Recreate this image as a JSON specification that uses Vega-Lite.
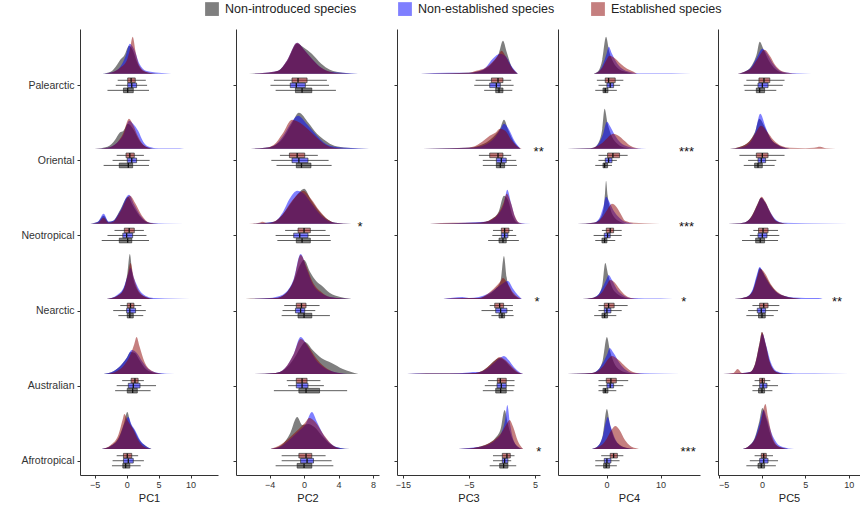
{
"$schema":"https://vega.github.io/schema/vega-lite/v6.json",
"padding":{"left":2,"top":2,"right":0,"bottom":10},
"background":"white",
"bounds":"flush",
"datasets":{
"dens":[
{"p":1,"r":"Pal","g":"N","x":-3.8,"d":0},{"p":1,"r":"Pal","g":"N","x":-2.5,"d":2},{"p":1,"r":"Pal","g":"N","x":-1.5,"d":9},{"p":1,"r":"Pal","g":"N","x":-1,"d":14},{"p":1,"r":"Pal","g":"N","x":-0.4,"d":18},{"p":1,"r":"Pal","g":"N","x":0.4,"d":28},{"p":1,"r":"Pal","g":"N","x":1,"d":23},{"p":1,"r":"Pal","g":"N","x":1.6,"d":12},{"p":1,"r":"Pal","g":"N","x":2.5,"d":3},{"p":1,"r":"Pal","g":"N","x":4,"d":0.5},{"p":1,"r":"Pal","g":"N","x":5,"d":0},
{"p":1,"r":"Ori","g":"N","x":-5,"d":0},{"p":1,"r":"Ori","g":"N","x":-3,"d":2},{"p":1,"r":"Ori","g":"N","x":-1.8,"d":9},{"p":1,"r":"Ori","g":"N","x":-1.1,"d":16},{"p":1,"r":"Ori","g":"N","x":-0.5,"d":18},{"p":1,"r":"Ori","g":"N","x":0.2,"d":25},{"p":1,"r":"Ori","g":"N","x":1,"d":20},{"p":1,"r":"Ori","g":"N","x":2,"d":8},{"p":1,"r":"Ori","g":"N","x":3,"d":2},{"p":1,"r":"Ori","g":"N","x":4.5,"d":0},
{"p":1,"r":"Neo","g":"N","x":-5.7,"d":0},{"p":1,"r":"Neo","g":"N","x":-4.5,"d":2},{"p":1,"r":"Neo","g":"N","x":-3.6,"d":8},{"p":1,"r":"Neo","g":"N","x":-2.8,"d":2},{"p":1,"r":"Neo","g":"N","x":-2.1,"d":3},{"p":1,"r":"Neo","g":"N","x":-1,"d":14},{"p":1,"r":"Neo","g":"N","x":0.2,"d":27},{"p":1,"r":"Neo","g":"N","x":1,"d":18},{"p":1,"r":"Neo","g":"N","x":2,"d":8},{"p":1,"r":"Neo","g":"N","x":3.5,"d":1},{"p":1,"r":"Neo","g":"N","x":5,"d":0},
{"p":1,"r":"Nea","g":"N","x":-3.1,"d":0},{"p":1,"r":"Nea","g":"N","x":-1.5,"d":3},{"p":1,"r":"Nea","g":"N","x":-0.5,"d":10},{"p":1,"r":"Nea","g":"N","x":0.1,"d":25},{"p":1,"r":"Nea","g":"N","x":0.5,"d":45},{"p":1,"r":"Nea","g":"N","x":0.9,"d":25},{"p":1,"r":"Nea","g":"N","x":1.6,"d":10},{"p":1,"r":"Nea","g":"N","x":2.6,"d":3},{"p":1,"r":"Nea","g":"N","x":4.2,"d":0},
{"p":1,"r":"Aus","g":"N","x":-3.6,"d":0},{"p":1,"r":"Aus","g":"N","x":-2,"d":3},{"p":1,"r":"Aus","g":"N","x":-1,"d":8},{"p":1,"r":"Aus","g":"N","x":0,"d":16},{"p":1,"r":"Aus","g":"N","x":0.6,"d":22},{"p":1,"r":"Aus","g":"N","x":1.3,"d":21},{"p":1,"r":"Aus","g":"N","x":2,"d":14},{"p":1,"r":"Aus","g":"N","x":3,"d":5},{"p":1,"r":"Aus","g":"N","x":4.5,"d":1},{"p":1,"r":"Aus","g":"N","x":6,"d":0},
{"p":1,"r":"Afr","g":"N","x":-3.9,"d":0},{"p":1,"r":"Afr","g":"N","x":-2.5,"d":3},{"p":1,"r":"Afr","g":"N","x":-1.2,"d":12},{"p":1,"r":"Afr","g":"N","x":-0.4,"d":26},{"p":1,"r":"Afr","g":"N","x":0.1,"d":37},{"p":1,"r":"Afr","g":"N","x":0.6,"d":26},{"p":1,"r":"Afr","g":"N","x":1.2,"d":19},{"p":1,"r":"Afr","g":"N","x":2,"d":9},{"p":1,"r":"Afr","g":"N","x":3,"d":3},{"p":1,"r":"Afr","g":"N","x":3.9,"d":0},
{"p":2,"r":"Pal","g":"N","x":-6.4,"d":0},{"p":2,"r":"Pal","g":"N","x":-4,"d":1},{"p":2,"r":"Pal","g":"N","x":-3,"d":3},{"p":2,"r":"Pal","g":"N","x":-2,"d":12},{"p":2,"r":"Pal","g":"N","x":-0.8,"d":30},{"p":2,"r":"Pal","g":"N","x":0,"d":26},{"p":2,"r":"Pal","g":"N","x":0.9,"d":20},{"p":2,"r":"Pal","g":"N","x":2,"d":10},{"p":2,"r":"Pal","g":"N","x":3,"d":4},{"p":2,"r":"Pal","g":"N","x":4.5,"d":1},{"p":2,"r":"Pal","g":"N","x":6.3,"d":0},
{"p":2,"r":"Ori","g":"N","x":-6.8,"d":0},{"p":2,"r":"Ori","g":"N","x":-4.5,"d":1},{"p":2,"r":"Ori","g":"N","x":-3.5,"d":3},{"p":2,"r":"Ori","g":"N","x":-2.5,"d":10},{"p":2,"r":"Ori","g":"N","x":-1.5,"d":24},{"p":2,"r":"Ori","g":"N","x":-0.6,"d":36},{"p":2,"r":"Ori","g":"N","x":0.5,"d":26},{"p":2,"r":"Ori","g":"N","x":1.5,"d":15},{"p":2,"r":"Ori","g":"N","x":2.5,"d":8},{"p":2,"r":"Ori","g":"N","x":3.5,"d":3},{"p":2,"r":"Ori","g":"N","x":5,"d":1},{"p":2,"r":"Ori","g":"N","x":7.6,"d":0},
{"p":2,"r":"Neo","g":"N","x":-6.4,"d":0},{"p":2,"r":"Neo","g":"N","x":-3.5,"d":2},{"p":2,"r":"Neo","g":"N","x":-2.5,"d":9},{"p":2,"r":"Neo","g":"N","x":-1.4,"d":22},{"p":2,"r":"Neo","g":"N","x":-0.6,"d":31},{"p":2,"r":"Neo","g":"N","x":0,"d":35},{"p":2,"r":"Neo","g":"N","x":0.8,"d":24},{"p":2,"r":"Neo","g":"N","x":1.8,"d":12},{"p":2,"r":"Neo","g":"N","x":2.8,"d":4},{"p":2,"r":"Neo","g":"N","x":3.6,"d":1},{"p":2,"r":"Neo","g":"N","x":5.5,"d":0},
{"p":2,"r":"Nea","g":"N","x":-6.8,"d":0},{"p":2,"r":"Nea","g":"N","x":-3.3,"d":1},{"p":2,"r":"Nea","g":"N","x":-2.2,"d":5},{"p":2,"r":"Nea","g":"N","x":-1.2,"d":18},{"p":2,"r":"Nea","g":"N","x":-0.4,"d":35},{"p":2,"r":"Nea","g":"N","x":0,"d":39},{"p":2,"r":"Nea","g":"N","x":0.7,"d":27},{"p":2,"r":"Nea","g":"N","x":1.4,"d":18},{"p":2,"r":"Nea","g":"N","x":2.1,"d":13},{"p":2,"r":"Nea","g":"N","x":3,"d":6},{"p":2,"r":"Nea","g":"N","x":4.2,"d":2},{"p":2,"r":"Nea","g":"N","x":5.5,"d":0},
{"p":2,"r":"Aus","g":"N","x":-6,"d":0},{"p":2,"r":"Aus","g":"N","x":-3.3,"d":1},{"p":2,"r":"Aus","g":"N","x":-2.2,"d":5},{"p":2,"r":"Aus","g":"N","x":-1.2,"d":15},{"p":2,"r":"Aus","g":"N","x":-0.3,"d":28},{"p":2,"r":"Aus","g":"N","x":0.1,"d":32},{"p":2,"r":"Aus","g":"N","x":1,"d":24},{"p":2,"r":"Aus","g":"N","x":2,"d":16},{"p":2,"r":"Aus","g":"N","x":3.2,"d":11},{"p":2,"r":"Aus","g":"N","x":4.5,"d":5},{"p":2,"r":"Aus","g":"N","x":6.3,"d":0},
{"p":2,"r":"Afr","g":"N","x":-3.9,"d":0},{"p":2,"r":"Afr","g":"N","x":-2.6,"d":4},{"p":2,"r":"Afr","g":"N","x":-1.6,"d":16},{"p":2,"r":"Afr","g":"N","x":-0.8,"d":32},{"p":2,"r":"Afr","g":"N","x":-0.2,"d":24},{"p":2,"r":"Afr","g":"N","x":0.5,"d":25},{"p":2,"r":"Afr","g":"N","x":1.2,"d":22},{"p":2,"r":"Afr","g":"N","x":2.2,"d":12},{"p":2,"r":"Afr","g":"N","x":3.2,"d":4},{"p":2,"r":"Afr","g":"N","x":4.2,"d":1},{"p":2,"r":"Afr","g":"N","x":5.3,"d":0},
{"p":3,"r":"Pal","g":"N","x":-12.4,"d":0},{"p":3,"r":"Pal","g":"N","x":-8,"d":0.5},{"p":3,"r":"Pal","g":"N","x":-5,"d":1},{"p":3,"r":"Pal","g":"N","x":-3.9,"d":2},{"p":3,"r":"Pal","g":"N","x":-2.5,"d":5},{"p":3,"r":"Pal","g":"N","x":-1.3,"d":12},{"p":3,"r":"Pal","g":"N","x":-0.5,"d":20},{"p":3,"r":"Pal","g":"N","x":0.15,"d":33},{"p":3,"r":"Pal","g":"N","x":0.7,"d":22},{"p":3,"r":"Pal","g":"N","x":1.4,"d":8},{"p":3,"r":"Pal","g":"N","x":2.4,"d":0},
{"p":3,"r":"Ori","g":"N","x":-12,"d":0},{"p":3,"r":"Ori","g":"N","x":-8,"d":0.5},{"p":3,"r":"Ori","g":"N","x":-5,"d":1},{"p":3,"r":"Ori","g":"N","x":-3.5,"d":3},{"p":3,"r":"Ori","g":"N","x":-2,"d":8},{"p":3,"r":"Ori","g":"N","x":-1,"d":14},{"p":3,"r":"Ori","g":"N","x":-0.3,"d":20},{"p":3,"r":"Ori","g":"N","x":0.3,"d":29},{"p":3,"r":"Ori","g":"N","x":1,"d":18},{"p":3,"r":"Ori","g":"N","x":1.8,"d":7},{"p":3,"r":"Ori","g":"N","x":2.8,"d":0},
{"p":3,"r":"Neo","g":"N","x":-11,"d":0},{"p":3,"r":"Neo","g":"N","x":-7.4,"d":0.5},{"p":3,"r":"Neo","g":"N","x":-4,"d":1},{"p":3,"r":"Neo","g":"N","x":-2.5,"d":2},{"p":3,"r":"Neo","g":"N","x":-1.5,"d":5},{"p":3,"r":"Neo","g":"N","x":-0.5,"d":12},{"p":3,"r":"Neo","g":"N","x":0.3,"d":28},{"p":3,"r":"Neo","g":"N","x":0.9,"d":24},{"p":3,"r":"Neo","g":"N","x":1.6,"d":8},{"p":3,"r":"Neo","g":"N","x":2.3,"d":1},{"p":3,"r":"Neo","g":"N","x":3,"d":0},
{"p":3,"r":"Nea","g":"N","x":-8.9,"d":0},{"p":3,"r":"Nea","g":"N","x":-6,"d":0.5},{"p":3,"r":"Nea","g":"N","x":-3.5,"d":1},{"p":3,"r":"Nea","g":"N","x":-2.2,"d":4},{"p":3,"r":"Nea","g":"N","x":-1,"d":10},{"p":3,"r":"Nea","g":"N","x":-0.2,"d":18},{"p":3,"r":"Nea","g":"N","x":0.3,"d":43},{"p":3,"r":"Nea","g":"N","x":0.7,"d":22},{"p":3,"r":"Nea","g":"N","x":1.4,"d":8},{"p":3,"r":"Nea","g":"N","x":2.2,"d":2},{"p":3,"r":"Nea","g":"N","x":2.9,"d":0},
{"p":3,"r":"Aus","g":"N","x":-14.4,"d":0},{"p":3,"r":"Aus","g":"N","x":-11.4,"d":0.5},{"p":3,"r":"Aus","g":"N","x":-6,"d":0.5},{"p":3,"r":"Aus","g":"N","x":-4,"d":1},{"p":3,"r":"Aus","g":"N","x":-3,"d":3},{"p":3,"r":"Aus","g":"N","x":-2,"d":8},{"p":3,"r":"Aus","g":"N","x":-1,"d":14},{"p":3,"r":"Aus","g":"N","x":-0.45,"d":16},{"p":3,"r":"Aus","g":"N","x":0.3,"d":14},{"p":3,"r":"Aus","g":"N","x":1.2,"d":8},{"p":3,"r":"Aus","g":"N","x":2.2,"d":2},{"p":3,"r":"Aus","g":"N","x":3.2,"d":0},
{"p":3,"r":"Afr","g":"N","x":-6.6,"d":0},{"p":3,"r":"Afr","g":"N","x":-5,"d":0.5},{"p":3,"r":"Afr","g":"N","x":-3.6,"d":2},{"p":3,"r":"Afr","g":"N","x":-2.2,"d":5},{"p":3,"r":"Afr","g":"N","x":-1,"d":11},{"p":3,"r":"Afr","g":"N","x":-0.2,"d":20},{"p":3,"r":"Afr","g":"N","x":0.4,"d":39},{"p":3,"r":"Afr","g":"N","x":0.9,"d":25},{"p":3,"r":"Afr","g":"N","x":1.6,"d":10},{"p":3,"r":"Afr","g":"N","x":2.4,"d":2},{"p":3,"r":"Afr","g":"N","x":3.2,"d":0},
{"p":4,"r":"Pal","g":"N","x":-2.4,"d":0},{"p":4,"r":"Pal","g":"N","x":-1.5,"d":3},{"p":4,"r":"Pal","g":"N","x":-0.8,"d":14},{"p":4,"r":"Pal","g":"N","x":-0.1,"d":37},{"p":4,"r":"Pal","g":"N","x":0.5,"d":22},{"p":4,"r":"Pal","g":"N","x":1.2,"d":12},{"p":4,"r":"Pal","g":"N","x":2.2,"d":5},{"p":4,"r":"Pal","g":"N","x":3.5,"d":2},{"p":4,"r":"Pal","g":"N","x":5,"d":0},
{"p":4,"r":"Ori","g":"N","x":-7.3,"d":0},{"p":4,"r":"Ori","g":"N","x":-3,"d":0.5},{"p":4,"r":"Ori","g":"N","x":-2.4,"d":1},{"p":4,"r":"Ori","g":"N","x":-1.5,"d":6},{"p":4,"r":"Ori","g":"N","x":-0.8,"d":20},{"p":4,"r":"Ori","g":"N","x":-0.37,"d":40},{"p":4,"r":"Ori","g":"N","x":0.2,"d":25},{"p":4,"r":"Ori","g":"N","x":1,"d":12},{"p":4,"r":"Ori","g":"N","x":2,"d":5},{"p":4,"r":"Ori","g":"N","x":3.5,"d":1},{"p":4,"r":"Ori","g":"N","x":5,"d":0},
{"p":4,"r":"Neo","g":"N","x":-5.4,"d":0},{"p":4,"r":"Neo","g":"N","x":-2.4,"d":1},{"p":4,"r":"Neo","g":"N","x":-1.4,"d":4},{"p":4,"r":"Neo","g":"N","x":-0.6,"d":14},{"p":4,"r":"Neo","g":"N","x":-0.3,"d":30},{"p":4,"r":"Neo","g":"N","x":-0.1,"d":43},{"p":4,"r":"Neo","g":"N","x":0.2,"d":28},{"p":4,"r":"Neo","g":"N","x":0.7,"d":15},{"p":4,"r":"Neo","g":"N","x":1.5,"d":6},{"p":4,"r":"Neo","g":"N","x":2.5,"d":2},{"p":4,"r":"Neo","g":"N","x":3.5,"d":0},
{"p":4,"r":"Nea","g":"N","x":-4.5,"d":0},{"p":4,"r":"Nea","g":"N","x":-2.7,"d":1},{"p":4,"r":"Nea","g":"N","x":-1.6,"d":4},{"p":4,"r":"Nea","g":"N","x":-0.8,"d":14},{"p":4,"r":"Nea","g":"N","x":-0.25,"d":36},{"p":4,"r":"Nea","g":"N","x":0.3,"d":24},{"p":4,"r":"Nea","g":"N","x":1,"d":12},{"p":4,"r":"Nea","g":"N","x":2,"d":5},{"p":4,"r":"Nea","g":"N","x":3,"d":2},{"p":4,"r":"Nea","g":"N","x":4.5,"d":0},
{"p":4,"r":"Aus","g":"N","x":-7.3,"d":0},{"p":4,"r":"Aus","g":"N","x":-4,"d":0.5},{"p":4,"r":"Aus","g":"N","x":-2.7,"d":1},{"p":4,"r":"Aus","g":"N","x":-1.6,"d":4},{"p":4,"r":"Aus","g":"N","x":-0.7,"d":14},{"p":4,"r":"Aus","g":"N","x":0.06,"d":37},{"p":4,"r":"Aus","g":"N","x":0.6,"d":24},{"p":4,"r":"Aus","g":"N","x":1.4,"d":11},{"p":4,"r":"Aus","g":"N","x":2.5,"d":4},{"p":4,"r":"Aus","g":"N","x":4,"d":1},{"p":4,"r":"Aus","g":"N","x":5.5,"d":0},
{"p":4,"r":"Afr","g":"N","x":-2.7,"d":0},{"p":4,"r":"Afr","g":"N","x":-1.6,"d":3},{"p":4,"r":"Afr","g":"N","x":-0.7,"d":14},{"p":4,"r":"Afr","g":"N","x":0.06,"d":40},{"p":4,"r":"Afr","g":"N","x":0.6,"d":25},{"p":4,"r":"Afr","g":"N","x":1.4,"d":11},{"p":4,"r":"Afr","g":"N","x":2.5,"d":4},{"p":4,"r":"Afr","g":"N","x":3.8,"d":1},{"p":4,"r":"Afr","g":"N","x":5,"d":0},
{"p":5,"r":"Pal","g":"N","x":-2.8,"d":0},{"p":5,"r":"Pal","g":"N","x":-2,"d":2},{"p":5,"r":"Pal","g":"N","x":-1.2,"d":8},{"p":5,"r":"Pal","g":"N","x":-0.6,"d":20},{"p":5,"r":"Pal","g":"N","x":-0.27,"d":32},{"p":5,"r":"Pal","g":"N","x":0.2,"d":24},{"p":5,"r":"Pal","g":"N","x":0.8,"d":13},{"p":5,"r":"Pal","g":"N","x":1.5,"d":5},{"p":5,"r":"Pal","g":"N","x":2.4,"d":1},{"p":5,"r":"Pal","g":"N","x":3.5,"d":0},
{"p":5,"r":"Ori","g":"N","x":-3.7,"d":0},{"p":5,"r":"Ori","g":"N","x":-2.5,"d":2},{"p":5,"r":"Ori","g":"N","x":-1.5,"d":7},{"p":5,"r":"Ori","g":"N","x":-0.8,"d":17},{"p":5,"r":"Ori","g":"N","x":-0.3,"d":30},{"p":5,"r":"Ori","g":"N","x":0.3,"d":22},{"p":5,"r":"Ori","g":"N","x":1,"d":10},{"p":5,"r":"Ori","g":"N","x":1.8,"d":4},{"p":5,"r":"Ori","g":"N","x":3.2,"d":0},
{"p":5,"r":"Neo","g":"N","x":-3.9,"d":0},{"p":5,"r":"Neo","g":"N","x":-2.5,"d":0.5},{"p":5,"r":"Neo","g":"N","x":-1.8,"d":2},{"p":5,"r":"Neo","g":"N","x":-1.1,"d":9},{"p":5,"r":"Neo","g":"N","x":-0.5,"d":20},{"p":5,"r":"Neo","g":"N","x":-0.1,"d":26},{"p":5,"r":"Neo","g":"N","x":0.4,"d":21},{"p":5,"r":"Neo","g":"N","x":1,"d":10},{"p":5,"r":"Neo","g":"N","x":1.6,"d":3},{"p":5,"r":"Neo","g":"N","x":2.2,"d":1},{"p":5,"r":"Neo","g":"N","x":3,"d":0},
{"p":5,"r":"Nea","g":"N","x":-3.2,"d":0},{"p":5,"r":"Nea","g":"N","x":-1.8,"d":2},{"p":5,"r":"Nea","g":"N","x":-1.1,"d":8},{"p":5,"r":"Nea","g":"N","x":-0.6,"d":22},{"p":5,"r":"Nea","g":"N","x":-0.27,"d":31},{"p":5,"r":"Nea","g":"N","x":0.3,"d":24},{"p":5,"r":"Nea","g":"N","x":1,"d":14},{"p":5,"r":"Nea","g":"N","x":1.8,"d":6},{"p":5,"r":"Nea","g":"N","x":2.6,"d":3},{"p":5,"r":"Nea","g":"N","x":3.6,"d":1},{"p":5,"r":"Nea","g":"N","x":4.5,"d":0},
{"p":5,"r":"Aus","g":"N","x":-4.5,"d":0},{"p":5,"r":"Aus","g":"N","x":-2.5,"d":0.5},{"p":5,"r":"Aus","g":"N","x":-1.35,"d":2},{"p":5,"r":"Aus","g":"N","x":-0.8,"d":10},{"p":5,"r":"Aus","g":"N","x":-0.3,"d":30},{"p":5,"r":"Aus","g":"N","x":0,"d":42},{"p":5,"r":"Aus","g":"N","x":0.4,"d":30},{"p":5,"r":"Aus","g":"N","x":0.9,"d":12},{"p":5,"r":"Aus","g":"N","x":1.65,"d":2},{"p":5,"r":"Aus","g":"N","x":2.5,"d":0.5},{"p":5,"r":"Aus","g":"N","x":3.5,"d":0},
{"p":5,"r":"Afr","g":"N","x":-2.2,"d":0},{"p":5,"r":"Afr","g":"N","x":-1.5,"d":3},{"p":5,"r":"Afr","g":"N","x":-0.8,"d":12},{"p":5,"r":"Afr","g":"N","x":-0.3,"d":28},{"p":5,"r":"Afr","g":"N","x":0.04,"d":41},{"p":5,"r":"Afr","g":"N","x":0.5,"d":30},{"p":5,"r":"Afr","g":"N","x":1,"d":14},{"p":5,"r":"Afr","g":"N","x":1.6,"d":4},{"p":5,"r":"Afr","g":"N","x":2.4,"d":1},{"p":5,"r":"Afr","g":"N","x":3,"d":0},

{"p":1,"r":"Pal","g":"S","x":-3.8,"d":0},{"p":1,"r":"Pal","g":"S","x":-2,"d":2},{"p":1,"r":"Pal","g":"S","x":-1,"d":7},{"p":1,"r":"Pal","g":"S","x":-0.2,"d":17},{"p":1,"r":"Pal","g":"S","x":0.5,"d":30},{"p":1,"r":"Pal","g":"S","x":1.2,"d":24},{"p":1,"r":"Pal","g":"S","x":2,"d":10},{"p":1,"r":"Pal","g":"S","x":3,"d":3},{"p":1,"r":"Pal","g":"S","x":5,"d":1},{"p":1,"r":"Pal","g":"S","x":7,"d":0},
{"p":1,"r":"Ori","g":"S","x":-5,"d":0},{"p":1,"r":"Ori","g":"S","x":-3,"d":1},{"p":1,"r":"Ori","g":"S","x":-1.5,"d":6},{"p":1,"r":"Ori","g":"S","x":-0.5,"d":14},{"p":1,"r":"Ori","g":"S","x":0.4,"d":28},{"p":1,"r":"Ori","g":"S","x":1,"d":25},{"p":1,"r":"Ori","g":"S","x":1.8,"d":18},{"p":1,"r":"Ori","g":"S","x":2.6,"d":7},{"p":1,"r":"Ori","g":"S","x":3.5,"d":2},{"p":1,"r":"Ori","g":"S","x":5,"d":0.5},{"p":1,"r":"Ori","g":"S","x":8.3,"d":0.5},{"p":1,"r":"Ori","g":"S","x":9,"d":0},
{"p":1,"r":"Neo","g":"S","x":-5.7,"d":0},{"p":1,"r":"Neo","g":"S","x":-4.5,"d":2},{"p":1,"r":"Neo","g":"S","x":-3.6,"d":10},{"p":1,"r":"Neo","g":"S","x":-2.8,"d":2},{"p":1,"r":"Neo","g":"S","x":-2.1,"d":3},{"p":1,"r":"Neo","g":"S","x":-1,"d":13},{"p":1,"r":"Neo","g":"S","x":0.36,"d":29},{"p":1,"r":"Neo","g":"S","x":1.2,"d":19},{"p":1,"r":"Neo","g":"S","x":2.2,"d":8},{"p":1,"r":"Neo","g":"S","x":3.6,"d":1},{"p":1,"r":"Neo","g":"S","x":6,"d":0.3},{"p":1,"r":"Neo","g":"S","x":12,"d":0},
{"p":1,"r":"Nea","g":"S","x":-3.1,"d":0},{"p":1,"r":"Nea","g":"S","x":-1.5,"d":4},{"p":1,"r":"Nea","g":"S","x":-0.5,"d":11},{"p":1,"r":"Nea","g":"S","x":0.2,"d":24},{"p":1,"r":"Nea","g":"S","x":0.6,"d":31},{"p":1,"r":"Nea","g":"S","x":1.2,"d":20},{"p":1,"r":"Nea","g":"S","x":2,"d":9},{"p":1,"r":"Nea","g":"S","x":3,"d":3},{"p":1,"r":"Nea","g":"S","x":4.2,"d":1},{"p":1,"r":"Nea","g":"S","x":6,"d":0.5},{"p":1,"r":"Nea","g":"S","x":9.9,"d":0},
{"p":1,"r":"Aus","g":"S","x":-3.6,"d":0},{"p":1,"r":"Aus","g":"S","x":-2,"d":3},{"p":1,"r":"Aus","g":"S","x":-1,"d":8},{"p":1,"r":"Aus","g":"S","x":0,"d":16},{"p":1,"r":"Aus","g":"S","x":0.8,"d":24},{"p":1,"r":"Aus","g":"S","x":1.6,"d":21},{"p":1,"r":"Aus","g":"S","x":2.4,"d":13},{"p":1,"r":"Aus","g":"S","x":3.4,"d":5},{"p":1,"r":"Aus","g":"S","x":5,"d":1},{"p":1,"r":"Aus","g":"S","x":7.5,"d":0},
{"p":1,"r":"Afr","g":"S","x":-3.9,"d":0},{"p":1,"r":"Afr","g":"S","x":-2.5,"d":3},{"p":1,"r":"Afr","g":"S","x":-1.2,"d":11},{"p":1,"r":"Afr","g":"S","x":-0.3,"d":26},{"p":1,"r":"Afr","g":"S","x":0.26,"d":32},{"p":1,"r":"Afr","g":"S","x":0.8,"d":24},{"p":1,"r":"Afr","g":"S","x":1.3,"d":19},{"p":1,"r":"Afr","g":"S","x":2.1,"d":9},{"p":1,"r":"Afr","g":"S","x":3,"d":3},{"p":1,"r":"Afr","g":"S","x":3.9,"d":0},
{"p":2,"r":"Pal","g":"S","x":-6.4,"d":0},{"p":2,"r":"Pal","g":"S","x":-4.5,"d":1},{"p":2,"r":"Pal","g":"S","x":-3,"d":3},{"p":2,"r":"Pal","g":"S","x":-2,"d":13},{"p":2,"r":"Pal","g":"S","x":-0.8,"d":31},{"p":2,"r":"Pal","g":"S","x":0,"d":24},{"p":2,"r":"Pal","g":"S","x":0.9,"d":15},{"p":2,"r":"Pal","g":"S","x":2,"d":6},{"p":2,"r":"Pal","g":"S","x":3,"d":2},{"p":2,"r":"Pal","g":"S","x":4.5,"d":1},{"p":2,"r":"Pal","g":"S","x":6.3,"d":0},
{"p":2,"r":"Ori","g":"S","x":-6.8,"d":0},{"p":2,"r":"Ori","g":"S","x":-4.5,"d":1},{"p":2,"r":"Ori","g":"S","x":-3.5,"d":3},{"p":2,"r":"Ori","g":"S","x":-2.5,"d":12},{"p":2,"r":"Ori","g":"S","x":-1.5,"d":26},{"p":2,"r":"Ori","g":"S","x":-0.7,"d":33},{"p":2,"r":"Ori","g":"S","x":0.4,"d":24},{"p":2,"r":"Ori","g":"S","x":1.5,"d":13},{"p":2,"r":"Ori","g":"S","x":2.5,"d":5},{"p":2,"r":"Ori","g":"S","x":3.5,"d":2},{"p":2,"r":"Ori","g":"S","x":5,"d":1},{"p":2,"r":"Ori","g":"S","x":7.6,"d":0},
{"p":2,"r":"Neo","g":"S","x":-6.4,"d":0},{"p":2,"r":"Neo","g":"S","x":-3.5,"d":2},{"p":2,"r":"Neo","g":"S","x":-2.5,"d":11},{"p":2,"r":"Neo","g":"S","x":-1.6,"d":26},{"p":2,"r":"Neo","g":"S","x":-0.8,"d":33},{"p":2,"r":"Neo","g":"S","x":0,"d":30},{"p":2,"r":"Neo","g":"S","x":0.8,"d":21},{"p":2,"r":"Neo","g":"S","x":1.8,"d":10},{"p":2,"r":"Neo","g":"S","x":2.8,"d":3},{"p":2,"r":"Neo","g":"S","x":3.6,"d":1},{"p":2,"r":"Neo","g":"S","x":5.5,"d":0},
{"p":2,"r":"Nea","g":"S","x":-6.8,"d":0},{"p":2,"r":"Nea","g":"S","x":-4,"d":1},{"p":2,"r":"Nea","g":"S","x":-3.3,"d":2},{"p":2,"r":"Nea","g":"S","x":-2.2,"d":6},{"p":2,"r":"Nea","g":"S","x":-1.2,"d":20},{"p":2,"r":"Nea","g":"S","x":-0.4,"d":45},{"p":2,"r":"Nea","g":"S","x":0.3,"d":30},{"p":2,"r":"Nea","g":"S","x":1,"d":15},{"p":2,"r":"Nea","g":"S","x":2,"d":6},{"p":2,"r":"Nea","g":"S","x":3,"d":2},{"p":2,"r":"Nea","g":"S","x":4.5,"d":0.5},{"p":2,"r":"Nea","g":"S","x":5.5,"d":0},
{"p":2,"r":"Aus","g":"S","x":-6,"d":0},{"p":2,"r":"Aus","g":"S","x":-3.3,"d":1},{"p":2,"r":"Aus","g":"S","x":-2.2,"d":6},{"p":2,"r":"Aus","g":"S","x":-1.2,"d":20},{"p":2,"r":"Aus","g":"S","x":-0.4,"d":37},{"p":2,"r":"Aus","g":"S","x":0.4,"d":28},{"p":2,"r":"Aus","g":"S","x":1.3,"d":15},{"p":2,"r":"Aus","g":"S","x":2.4,"d":6},{"p":2,"r":"Aus","g":"S","x":3.5,"d":2},{"p":2,"r":"Aus","g":"S","x":5,"d":0},
{"p":2,"r":"Afr","g":"S","x":-3.9,"d":0},{"p":2,"r":"Afr","g":"S","x":-2.6,"d":3},{"p":2,"r":"Afr","g":"S","x":-1.6,"d":10},{"p":2,"r":"Afr","g":"S","x":-0.6,"d":18},{"p":2,"r":"Afr","g":"S","x":0.2,"d":25},{"p":2,"r":"Afr","g":"S","x":0.9,"d":37},{"p":2,"r":"Afr","g":"S","x":1.5,"d":27},{"p":2,"r":"Afr","g":"S","x":2.4,"d":12},{"p":2,"r":"Afr","g":"S","x":3.3,"d":4},{"p":2,"r":"Afr","g":"S","x":4.2,"d":1},{"p":2,"r":"Afr","g":"S","x":5.3,"d":0},
{"p":3,"r":"Pal","g":"S","x":-12.4,"d":0},{"p":3,"r":"Pal","g":"S","x":-8,"d":1},{"p":3,"r":"Pal","g":"S","x":-5,"d":1},{"p":3,"r":"Pal","g":"S","x":-3.9,"d":2},{"p":3,"r":"Pal","g":"S","x":-2.5,"d":6},{"p":3,"r":"Pal","g":"S","x":-1.4,"d":15},{"p":3,"r":"Pal","g":"S","x":-0.25,"d":20},{"p":3,"r":"Pal","g":"S","x":0.6,"d":17},{"p":3,"r":"Pal","g":"S","x":1.4,"d":8},{"p":3,"r":"Pal","g":"S","x":2.4,"d":0},
{"p":3,"r":"Ori","g":"S","x":-12,"d":0},{"p":3,"r":"Ori","g":"S","x":-8,"d":0.5},{"p":3,"r":"Ori","g":"S","x":-5,"d":1},{"p":3,"r":"Ori","g":"S","x":-3.5,"d":2},{"p":3,"r":"Ori","g":"S","x":-2,"d":6},{"p":3,"r":"Ori","g":"S","x":-1,"d":12},{"p":3,"r":"Ori","g":"S","x":-0.2,"d":20},{"p":3,"r":"Ori","g":"S","x":0.3,"d":25},{"p":3,"r":"Ori","g":"S","x":1,"d":20},{"p":3,"r":"Ori","g":"S","x":1.8,"d":9},{"p":3,"r":"Ori","g":"S","x":2.8,"d":0},
{"p":3,"r":"Neo","g":"S","x":-11,"d":0},{"p":3,"r":"Neo","g":"S","x":-7.4,"d":0.5},{"p":3,"r":"Neo","g":"S","x":-4,"d":1.5},{"p":3,"r":"Neo","g":"S","x":-2.5,"d":2},{"p":3,"r":"Neo","g":"S","x":-1.5,"d":4},{"p":3,"r":"Neo","g":"S","x":-0.5,"d":10},{"p":3,"r":"Neo","g":"S","x":0.3,"d":20},{"p":3,"r":"Neo","g":"S","x":0.8,"d":34},{"p":3,"r":"Neo","g":"S","x":1.4,"d":20},{"p":3,"r":"Neo","g":"S","x":2,"d":6},{"p":3,"r":"Neo","g":"S","x":2.6,"d":1},{"p":3,"r":"Neo","g":"S","x":4.4,"d":0},
{"p":3,"r":"Nea","g":"S","x":-8.9,"d":0},{"p":3,"r":"Nea","g":"S","x":-6,"d":2},{"p":3,"r":"Nea","g":"S","x":-5,"d":1},{"p":3,"r":"Nea","g":"S","x":-3.5,"d":2},{"p":3,"r":"Nea","g":"S","x":-2.2,"d":5},{"p":3,"r":"Nea","g":"S","x":-1,"d":10},{"p":3,"r":"Nea","g":"S","x":0,"d":15},{"p":3,"r":"Nea","g":"S","x":0.9,"d":18},{"p":3,"r":"Nea","g":"S","x":1.7,"d":10},{"p":3,"r":"Nea","g":"S","x":2.4,"d":4},{"p":3,"r":"Nea","g":"S","x":3,"d":0},
{"p":3,"r":"Aus","g":"S","x":-14.4,"d":0},{"p":3,"r":"Aus","g":"S","x":-13,"d":0.6},{"p":3,"r":"Aus","g":"S","x":-11.4,"d":0.6},{"p":3,"r":"Aus","g":"S","x":-8,"d":0.5},{"p":3,"r":"Aus","g":"S","x":-5,"d":1.5},{"p":3,"r":"Aus","g":"S","x":-4.4,"d":2},{"p":3,"r":"Aus","g":"S","x":-3.4,"d":2},{"p":3,"r":"Aus","g":"S","x":-2.3,"d":5},{"p":3,"r":"Aus","g":"S","x":-1.2,"d":11},{"p":3,"r":"Aus","g":"S","x":-0.3,"d":16},{"p":3,"r":"Aus","g":"S","x":0.3,"d":18},{"p":3,"r":"Aus","g":"S","x":1,"d":14},{"p":3,"r":"Aus","g":"S","x":1.8,"d":7},{"p":3,"r":"Aus","g":"S","x":2.6,"d":2},{"p":3,"r":"Aus","g":"S","x":3.2,"d":0},
{"p":3,"r":"Afr","g":"S","x":-6.6,"d":0},{"p":3,"r":"Afr","g":"S","x":-5,"d":1},{"p":3,"r":"Afr","g":"S","x":-3.6,"d":2},{"p":3,"r":"Afr","g":"S","x":-2.2,"d":4},{"p":3,"r":"Afr","g":"S","x":-1,"d":9},{"p":3,"r":"Afr","g":"S","x":-0.1,"d":16},{"p":3,"r":"Afr","g":"S","x":0.5,"d":30},{"p":3,"r":"Afr","g":"S","x":0.8,"d":44},{"p":3,"r":"Afr","g":"S","x":1.2,"d":26},{"p":3,"r":"Afr","g":"S","x":1.8,"d":8},{"p":3,"r":"Afr","g":"S","x":2.5,"d":2},{"p":3,"r":"Afr","g":"S","x":3.2,"d":0},
{"p":4,"r":"Pal","g":"S","x":-2.4,"d":0},{"p":4,"r":"Pal","g":"S","x":-1.5,"d":2},{"p":4,"r":"Pal","g":"S","x":-0.8,"d":8},{"p":4,"r":"Pal","g":"S","x":0,"d":20},{"p":4,"r":"Pal","g":"S","x":0.4,"d":27},{"p":4,"r":"Pal","g":"S","x":1,"d":20},{"p":4,"r":"Pal","g":"S","x":2,"d":10},{"p":4,"r":"Pal","g":"S","x":3.2,"d":4},{"p":4,"r":"Pal","g":"S","x":4.5,"d":1.5},{"p":4,"r":"Pal","g":"S","x":6,"d":0.5},{"p":4,"r":"Pal","g":"S","x":9,"d":0.5},{"p":4,"r":"Pal","g":"S","x":12,"d":0.5},{"p":4,"r":"Pal","g":"S","x":15.7,"d":0},
{"p":4,"r":"Ori","g":"S","x":-7.3,"d":0},{"p":4,"r":"Ori","g":"S","x":-3,"d":0.5},{"p":4,"r":"Ori","g":"S","x":-2.4,"d":1},{"p":4,"r":"Ori","g":"S","x":-1.5,"d":5},{"p":4,"r":"Ori","g":"S","x":-0.7,"d":14},{"p":4,"r":"Ori","g":"S","x":0.06,"d":27},{"p":4,"r":"Ori","g":"S","x":0.7,"d":22},{"p":4,"r":"Ori","g":"S","x":1.6,"d":13},{"p":4,"r":"Ori","g":"S","x":2.6,"d":6},{"p":4,"r":"Ori","g":"S","x":4,"d":2},{"p":4,"r":"Ori","g":"S","x":5.5,"d":0.5},{"p":4,"r":"Ori","g":"S","x":7.4,"d":0},
{"p":4,"r":"Neo","g":"S","x":-5.4,"d":0},{"p":4,"r":"Neo","g":"S","x":-2.4,"d":1},{"p":4,"r":"Neo","g":"S","x":-1.4,"d":5},{"p":4,"r":"Neo","g":"S","x":-0.6,"d":17},{"p":4,"r":"Neo","g":"S","x":-0.1,"d":27},{"p":4,"r":"Neo","g":"S","x":0.5,"d":22},{"p":4,"r":"Neo","g":"S","x":1.2,"d":14},{"p":4,"r":"Neo","g":"S","x":2,"d":8},{"p":4,"r":"Neo","g":"S","x":3,"d":3},{"p":4,"r":"Neo","g":"S","x":4,"d":1},{"p":4,"r":"Neo","g":"S","x":5,"d":0},
{"p":4,"r":"Nea","g":"S","x":-4.5,"d":0},{"p":4,"r":"Nea","g":"S","x":-2.7,"d":1},{"p":4,"r":"Nea","g":"S","x":-1.6,"d":4},{"p":4,"r":"Nea","g":"S","x":-0.8,"d":11},{"p":4,"r":"Nea","g":"S","x":0,"d":20},{"p":4,"r":"Nea","g":"S","x":0.37,"d":24},{"p":4,"r":"Nea","g":"S","x":1,"d":19},{"p":4,"r":"Nea","g":"S","x":2,"d":9},{"p":4,"r":"Nea","g":"S","x":3,"d":4},{"p":4,"r":"Nea","g":"S","x":4.5,"d":1},{"p":4,"r":"Nea","g":"S","x":7,"d":0.5},{"p":4,"r":"Nea","g":"S","x":10,"d":0.5},{"p":4,"r":"Nea","g":"S","x":12.3,"d":0},
{"p":4,"r":"Aus","g":"S","x":-7.3,"d":0},{"p":4,"r":"Aus","g":"S","x":-4,"d":0.5},{"p":4,"r":"Aus","g":"S","x":-2.7,"d":1},{"p":4,"r":"Aus","g":"S","x":-1.6,"d":4},{"p":4,"r":"Aus","g":"S","x":-0.6,"d":12},{"p":4,"r":"Aus","g":"S","x":0.2,"d":21},{"p":4,"r":"Aus","g":"S","x":0.55,"d":26},{"p":4,"r":"Aus","g":"S","x":1.3,"d":21},{"p":4,"r":"Aus","g":"S","x":2.4,"d":11},{"p":4,"r":"Aus","g":"S","x":3.6,"d":4},{"p":4,"r":"Aus","g":"S","x":5,"d":1},{"p":4,"r":"Aus","g":"S","x":8,"d":0.5},{"p":4,"r":"Aus","g":"S","x":13.6,"d":0},
{"p":4,"r":"Afr","g":"S","x":-2.7,"d":0},{"p":4,"r":"Afr","g":"S","x":-1.6,"d":3},{"p":4,"r":"Afr","g":"S","x":-0.7,"d":13},{"p":4,"r":"Afr","g":"S","x":-0.1,"d":28},{"p":4,"r":"Afr","g":"S","x":0.2,"d":32},{"p":4,"r":"Afr","g":"S","x":0.8,"d":22},{"p":4,"r":"Afr","g":"S","x":1.6,"d":10},{"p":4,"r":"Afr","g":"S","x":2.6,"d":3},{"p":4,"r":"Afr","g":"S","x":3.8,"d":1},{"p":4,"r":"Afr","g":"S","x":5,"d":0},
{"p":5,"r":"Pal","g":"S","x":-2.8,"d":0},{"p":5,"r":"Pal","g":"S","x":-2,"d":2},{"p":5,"r":"Pal","g":"S","x":-1.2,"d":7},{"p":5,"r":"Pal","g":"S","x":-0.6,"d":16},{"p":5,"r":"Pal","g":"S","x":0.04,"d":25},{"p":5,"r":"Pal","g":"S","x":0.6,"d":20},{"p":5,"r":"Pal","g":"S","x":1.2,"d":11},{"p":5,"r":"Pal","g":"S","x":1.9,"d":4},{"p":5,"r":"Pal","g":"S","x":2.6,"d":1.5},{"p":5,"r":"Pal","g":"S","x":4,"d":0.5},{"p":5,"r":"Pal","g":"S","x":5.7,"d":0},
{"p":5,"r":"Ori","g":"S","x":-3.7,"d":0},{"p":5,"r":"Ori","g":"S","x":-2.5,"d":1},{"p":5,"r":"Ori","g":"S","x":-1.5,"d":5},{"p":5,"r":"Ori","g":"S","x":-0.8,"d":16},{"p":5,"r":"Ori","g":"S","x":-0.2,"d":35},{"p":5,"r":"Ori","g":"S","x":0.4,"d":22},{"p":5,"r":"Ori","g":"S","x":1,"d":10},{"p":5,"r":"Ori","g":"S","x":1.8,"d":4},{"p":5,"r":"Ori","g":"S","x":3.2,"d":0},
{"p":5,"r":"Neo","g":"S","x":-3.9,"d":0},{"p":5,"r":"Neo","g":"S","x":-2.5,"d":0.5},{"p":5,"r":"Neo","g":"S","x":-1.8,"d":2},{"p":5,"r":"Neo","g":"S","x":-1.1,"d":8},{"p":5,"r":"Neo","g":"S","x":-0.5,"d":19},{"p":5,"r":"Neo","g":"S","x":-0.08,"d":26},{"p":5,"r":"Neo","g":"S","x":0.4,"d":21},{"p":5,"r":"Neo","g":"S","x":1,"d":11},{"p":5,"r":"Neo","g":"S","x":1.6,"d":4},{"p":5,"r":"Neo","g":"S","x":2.4,"d":1},{"p":5,"r":"Neo","g":"S","x":5,"d":0.5},{"p":5,"r":"Neo","g":"S","x":10,"d":0},
{"p":5,"r":"Nea","g":"S","x":-3.2,"d":0},{"p":5,"r":"Nea","g":"S","x":-1.8,"d":2},{"p":5,"r":"Nea","g":"S","x":-1.1,"d":9},{"p":5,"r":"Nea","g":"S","x":-0.6,"d":24},{"p":5,"r":"Nea","g":"S","x":-0.27,"d":32},{"p":5,"r":"Nea","g":"S","x":0.3,"d":23},{"p":5,"r":"Nea","g":"S","x":1,"d":13},{"p":5,"r":"Nea","g":"S","x":1.8,"d":6},{"p":5,"r":"Nea","g":"S","x":2.6,"d":3},{"p":5,"r":"Nea","g":"S","x":3.6,"d":1.5},{"p":5,"r":"Nea","g":"S","x":5,"d":1},{"p":5,"r":"Nea","g":"S","x":6.5,"d":1},{"p":5,"r":"Nea","g":"S","x":7,"d":0},
{"p":5,"r":"Aus","g":"S","x":-4.5,"d":0},{"p":5,"r":"Aus","g":"S","x":-3,"d":0.5},{"p":5,"r":"Aus","g":"S","x":-1.35,"d":2},{"p":5,"r":"Aus","g":"S","x":-0.8,"d":9},{"p":5,"r":"Aus","g":"S","x":-0.3,"d":28},{"p":5,"r":"Aus","g":"S","x":0.05,"d":40},{"p":5,"r":"Aus","g":"S","x":0.5,"d":28},{"p":5,"r":"Aus","g":"S","x":1,"d":12},{"p":5,"r":"Aus","g":"S","x":1.65,"d":3},{"p":5,"r":"Aus","g":"S","x":2.5,"d":1},{"p":5,"r":"Aus","g":"S","x":4,"d":0.5},{"p":5,"r":"Aus","g":"S","x":6,"d":0.5},{"p":5,"r":"Aus","g":"S","x":10,"d":0},
{"p":5,"r":"Afr","g":"S","x":-2.2,"d":0},{"p":5,"r":"Afr","g":"S","x":-1.5,"d":3},{"p":5,"r":"Afr","g":"S","x":-0.8,"d":11},{"p":5,"r":"Afr","g":"S","x":-0.3,"d":25},{"p":5,"r":"Afr","g":"S","x":0.2,"d":39},{"p":5,"r":"Afr","g":"S","x":0.6,"d":30},{"p":5,"r":"Afr","g":"S","x":1.1,"d":16},{"p":5,"r":"Afr","g":"S","x":1.7,"d":6},{"p":5,"r":"Afr","g":"S","x":2.4,"d":2},{"p":5,"r":"Afr","g":"S","x":3.7,"d":0},

{"p":1,"r":"Pal","g":"E","x":-3.5,"d":0},{"p":1,"r":"Pal","g":"E","x":-2,"d":2},{"p":1,"r":"Pal","g":"E","x":-1,"d":6},{"p":1,"r":"Pal","g":"E","x":0,"d":13},{"p":1,"r":"Pal","g":"E","x":0.5,"d":24},{"p":1,"r":"Pal","g":"E","x":0.95,"d":37},{"p":1,"r":"Pal","g":"E","x":1.4,"d":22},{"p":1,"r":"Pal","g":"E","x":2,"d":8},{"p":1,"r":"Pal","g":"E","x":3,"d":2},{"p":1,"r":"Pal","g":"E","x":4.5,"d":0},
{"p":1,"r":"Ori","g":"E","x":-5,"d":0},{"p":1,"r":"Ori","g":"E","x":-3,"d":1},{"p":1,"r":"Ori","g":"E","x":-1.5,"d":6},{"p":1,"r":"Ori","g":"E","x":-0.5,"d":16},{"p":1,"r":"Ori","g":"E","x":0.36,"d":30},{"p":1,"r":"Ori","g":"E","x":1,"d":24},{"p":1,"r":"Ori","g":"E","x":1.8,"d":12},{"p":1,"r":"Ori","g":"E","x":2.6,"d":4},{"p":1,"r":"Ori","g":"E","x":4,"d":0},
{"p":1,"r":"Neo","g":"E","x":-5.7,"d":0},{"p":1,"r":"Neo","g":"E","x":-4.5,"d":1},{"p":1,"r":"Neo","g":"E","x":-3.6,"d":6},{"p":1,"r":"Neo","g":"E","x":-2.8,"d":1},{"p":1,"r":"Neo","g":"E","x":-2.1,"d":2},{"p":1,"r":"Neo","g":"E","x":-1,"d":12},{"p":1,"r":"Neo","g":"E","x":0.5,"d":28},{"p":1,"r":"Neo","g":"E","x":1.4,"d":20},{"p":1,"r":"Neo","g":"E","x":2.4,"d":8},{"p":1,"r":"Neo","g":"E","x":3.6,"d":1},{"p":1,"r":"Neo","g":"E","x":5,"d":0},
{"p":1,"r":"Nea","g":"E","x":-3.1,"d":0},{"p":1,"r":"Nea","g":"E","x":-1.5,"d":3},{"p":1,"r":"Nea","g":"E","x":-0.5,"d":9},{"p":1,"r":"Nea","g":"E","x":0.2,"d":25},{"p":1,"r":"Nea","g":"E","x":0.6,"d":36},{"p":1,"r":"Nea","g":"E","x":1.1,"d":22},{"p":1,"r":"Nea","g":"E","x":1.8,"d":9},{"p":1,"r":"Nea","g":"E","x":3,"d":2},{"p":1,"r":"Nea","g":"E","x":4.2,"d":0},
{"p":1,"r":"Aus","g":"E","x":-3,"d":0},{"p":1,"r":"Aus","g":"E","x":-1.5,"d":3},{"p":1,"r":"Aus","g":"E","x":-0.5,"d":8},{"p":1,"r":"Aus","g":"E","x":0.5,"d":18},{"p":1,"r":"Aus","g":"E","x":1.2,"d":30},{"p":1,"r":"Aus","g":"E","x":1.56,"d":37},{"p":1,"r":"Aus","g":"E","x":2,"d":28},{"p":1,"r":"Aus","g":"E","x":2.8,"d":12},{"p":1,"r":"Aus","g":"E","x":4,"d":3},{"p":1,"r":"Aus","g":"E","x":5.5,"d":0},
{"p":1,"r":"Afr","g":"E","x":-3.9,"d":0},{"p":1,"r":"Afr","g":"E","x":-2.5,"d":4},{"p":1,"r":"Afr","g":"E","x":-1.3,"d":14},{"p":1,"r":"Afr","g":"E","x":-0.6,"d":30},{"p":1,"r":"Afr","g":"E","x":-0.36,"d":35},{"p":1,"r":"Afr","g":"E","x":0.2,"d":28},{"p":1,"r":"Afr","g":"E","x":1,"d":20},{"p":1,"r":"Afr","g":"E","x":1.8,"d":9},{"p":1,"r":"Afr","g":"E","x":2.8,"d":2},{"p":1,"r":"Afr","g":"E","x":3.9,"d":0},
{"p":2,"r":"Pal","g":"E","x":-6.4,"d":0},{"p":2,"r":"Pal","g":"E","x":-4.5,"d":1},{"p":2,"r":"Pal","g":"E","x":-3,"d":3},{"p":2,"r":"Pal","g":"E","x":-2,"d":13},{"p":2,"r":"Pal","g":"E","x":-0.8,"d":31},{"p":2,"r":"Pal","g":"E","x":0,"d":24},{"p":2,"r":"Pal","g":"E","x":0.9,"d":15},{"p":2,"r":"Pal","g":"E","x":2,"d":6},{"p":2,"r":"Pal","g":"E","x":3,"d":2},{"p":2,"r":"Pal","g":"E","x":4,"d":0.5},{"p":2,"r":"Pal","g":"E","x":5.5,"d":0},
{"p":2,"r":"Ori","g":"E","x":-6.8,"d":0},{"p":2,"r":"Ori","g":"E","x":-4.5,"d":1},{"p":2,"r":"Ori","g":"E","x":-3.5,"d":4},{"p":2,"r":"Ori","g":"E","x":-2.5,"d":15},{"p":2,"r":"Ori","g":"E","x":-1.4,"d":29},{"p":2,"r":"Ori","g":"E","x":-0.7,"d":27},{"p":2,"r":"Ori","g":"E","x":0.4,"d":20},{"p":2,"r":"Ori","g":"E","x":1.5,"d":11},{"p":2,"r":"Ori","g":"E","x":2.5,"d":4},{"p":2,"r":"Ori","g":"E","x":3.5,"d":1},{"p":2,"r":"Ori","g":"E","x":5,"d":0},
{"p":2,"r":"Neo","g":"E","x":-6.4,"d":0},{"p":2,"r":"Neo","g":"E","x":-5.2,"d":1},{"p":2,"r":"Neo","g":"E","x":-4.8,"d":2},{"p":2,"r":"Neo","g":"E","x":-4.3,"d":0.5},{"p":2,"r":"Neo","g":"E","x":-3.5,"d":2},{"p":2,"r":"Neo","g":"E","x":-2.5,"d":9},{"p":2,"r":"Neo","g":"E","x":-1.4,"d":23},{"p":2,"r":"Neo","g":"E","x":-0.5,"d":31},{"p":2,"r":"Neo","g":"E","x":-0.1,"d":33},{"p":2,"r":"Neo","g":"E","x":0.8,"d":25},{"p":2,"r":"Neo","g":"E","x":1.8,"d":13},{"p":2,"r":"Neo","g":"E","x":2.8,"d":4},{"p":2,"r":"Neo","g":"E","x":3.6,"d":1},{"p":2,"r":"Neo","g":"E","x":5.5,"d":0},
{"p":2,"r":"Nea","g":"E","x":-6.8,"d":0},{"p":2,"r":"Nea","g":"E","x":-3.3,"d":1},{"p":2,"r":"Nea","g":"E","x":-2.2,"d":5},{"p":2,"r":"Nea","g":"E","x":-1.2,"d":19},{"p":2,"r":"Nea","g":"E","x":-0.4,"d":44},{"p":2,"r":"Nea","g":"E","x":0.3,"d":32},{"p":2,"r":"Nea","g":"E","x":1,"d":17},{"p":2,"r":"Nea","g":"E","x":2,"d":7},{"p":2,"r":"Nea","g":"E","x":3,"d":2},{"p":2,"r":"Nea","g":"E","x":4.5,"d":0.5},{"p":2,"r":"Nea","g":"E","x":5.5,"d":0},
{"p":2,"r":"Aus","g":"E","x":-6,"d":0},{"p":2,"r":"Aus","g":"E","x":-3.3,"d":1},{"p":2,"r":"Aus","g":"E","x":-2.2,"d":6},{"p":2,"r":"Aus","g":"E","x":-1.2,"d":20},{"p":2,"r":"Aus","g":"E","x":-0.4,"d":35},{"p":2,"r":"Aus","g":"E","x":0.4,"d":29},{"p":2,"r":"Aus","g":"E","x":1.3,"d":17},{"p":2,"r":"Aus","g":"E","x":2.4,"d":7},{"p":2,"r":"Aus","g":"E","x":3.5,"d":2},{"p":2,"r":"Aus","g":"E","x":5,"d":0},
{"p":2,"r":"Afr","g":"E","x":-3.9,"d":0},{"p":2,"r":"Afr","g":"E","x":-2.6,"d":5},{"p":2,"r":"Afr","g":"E","x":-1.6,"d":12},{"p":2,"r":"Afr","g":"E","x":-0.6,"d":20},{"p":2,"r":"Afr","g":"E","x":0.1,"d":26},{"p":2,"r":"Afr","g":"E","x":0.6,"d":31},{"p":2,"r":"Afr","g":"E","x":1.3,"d":27},{"p":2,"r":"Afr","g":"E","x":2.3,"d":14},{"p":2,"r":"Afr","g":"E","x":3.3,"d":4},{"p":2,"r":"Afr","g":"E","x":4.2,"d":0},
{"p":3,"r":"Pal","g":"E","x":-12.4,"d":0},{"p":3,"r":"Pal","g":"E","x":-8,"d":0.5},{"p":3,"r":"Pal","g":"E","x":-5,"d":1},{"p":3,"r":"Pal","g":"E","x":-3.9,"d":3},{"p":3,"r":"Pal","g":"E","x":-2.5,"d":6},{"p":3,"r":"Pal","g":"E","x":-1.4,"d":12},{"p":3,"r":"Pal","g":"E","x":-0.4,"d":20},{"p":3,"r":"Pal","g":"E","x":-0.1,"d":23},{"p":3,"r":"Pal","g":"E","x":0.6,"d":17},{"p":3,"r":"Pal","g":"E","x":1.4,"d":7},{"p":3,"r":"Pal","g":"E","x":2.4,"d":0},
{"p":3,"r":"Ori","g":"E","x":-12,"d":0},{"p":3,"r":"Ori","g":"E","x":-8,"d":0.5},{"p":3,"r":"Ori","g":"E","x":-5.5,"d":1},{"p":3,"r":"Ori","g":"E","x":-4.4,"d":2},{"p":3,"r":"Ori","g":"E","x":-3,"d":7},{"p":3,"r":"Ori","g":"E","x":-1.86,"d":13},{"p":3,"r":"Ori","g":"E","x":-1,"d":16},{"p":3,"r":"Ori","g":"E","x":-0.3,"d":20},{"p":3,"r":"Ori","g":"E","x":0.5,"d":18},{"p":3,"r":"Ori","g":"E","x":1.4,"d":9},{"p":3,"r":"Ori","g":"E","x":2.4,"d":2},{"p":3,"r":"Ori","g":"E","x":3,"d":0},
{"p":3,"r":"Neo","g":"E","x":-11,"d":0},{"p":3,"r":"Neo","g":"E","x":-7.4,"d":1},{"p":3,"r":"Neo","g":"E","x":-4,"d":1},{"p":3,"r":"Neo","g":"E","x":-2.5,"d":2},{"p":3,"r":"Neo","g":"E","x":-1.5,"d":5},{"p":3,"r":"Neo","g":"E","x":-0.5,"d":11},{"p":3,"r":"Neo","g":"E","x":0.3,"d":22},{"p":3,"r":"Neo","g":"E","x":0.7,"d":30},{"p":3,"r":"Neo","g":"E","x":1.3,"d":22},{"p":3,"r":"Neo","g":"E","x":2,"d":7},{"p":3,"r":"Neo","g":"E","x":2.6,"d":1},{"p":3,"r":"Neo","g":"E","x":3.5,"d":0},
{"p":3,"r":"Nea","g":"E","x":-8.9,"d":0},{"p":3,"r":"Nea","g":"E","x":-6,"d":1},{"p":3,"r":"Nea","g":"E","x":-3.5,"d":1},{"p":3,"r":"Nea","g":"E","x":-2.2,"d":5},{"p":3,"r":"Nea","g":"E","x":-1,"d":12},{"p":3,"r":"Nea","g":"E","x":-0.2,"d":18},{"p":3,"r":"Nea","g":"E","x":0.15,"d":21},{"p":3,"r":"Nea","g":"E","x":0.8,"d":16},{"p":3,"r":"Nea","g":"E","x":1.6,"d":7},{"p":3,"r":"Nea","g":"E","x":2.4,"d":2},{"p":3,"r":"Nea","g":"E","x":3,"d":0},
{"p":3,"r":"Aus","g":"E","x":-14.4,"d":0},{"p":3,"r":"Aus","g":"E","x":-11.4,"d":0.5},{"p":3,"r":"Aus","g":"E","x":-6,"d":0.5},{"p":3,"r":"Aus","g":"E","x":-4,"d":1},{"p":3,"r":"Aus","g":"E","x":-3,"d":3},{"p":3,"r":"Aus","g":"E","x":-2,"d":8},{"p":3,"r":"Aus","g":"E","x":-1,"d":14},{"p":3,"r":"Aus","g":"E","x":-0.35,"d":17},{"p":3,"r":"Aus","g":"E","x":0.5,"d":14},{"p":3,"r":"Aus","g":"E","x":1.4,"d":8},{"p":3,"r":"Aus","g":"E","x":2.4,"d":2},{"p":3,"r":"Aus","g":"E","x":3.2,"d":0},
{"p":3,"r":"Afr","g":"E","x":-6.6,"d":0},{"p":3,"r":"Afr","g":"E","x":-5,"d":0.5},{"p":3,"r":"Afr","g":"E","x":-3.6,"d":2},{"p":3,"r":"Afr","g":"E","x":-2.2,"d":5},{"p":3,"r":"Afr","g":"E","x":-1,"d":10},{"p":3,"r":"Afr","g":"E","x":0,"d":17},{"p":3,"r":"Afr","g":"E","x":0.7,"d":25},{"p":3,"r":"Afr","g":"E","x":1.16,"d":29},{"p":3,"r":"Afr","g":"E","x":1.7,"d":22},{"p":3,"r":"Afr","g":"E","x":2.4,"d":8},{"p":3,"r":"Afr","g":"E","x":3.2,"d":0},
{"p":4,"r":"Pal","g":"E","x":-2.4,"d":0},{"p":4,"r":"Pal","g":"E","x":-1.5,"d":2},{"p":4,"r":"Pal","g":"E","x":-0.8,"d":6},{"p":4,"r":"Pal","g":"E","x":0,"d":14},{"p":4,"r":"Pal","g":"E","x":0.5,"d":18},{"p":4,"r":"Pal","g":"E","x":1.4,"d":16},{"p":4,"r":"Pal","g":"E","x":2.6,"d":10},{"p":4,"r":"Pal","g":"E","x":3.8,"d":5},{"p":4,"r":"Pal","g":"E","x":5,"d":2},{"p":4,"r":"Pal","g":"E","x":5.6,"d":0},
{"p":4,"r":"Ori","g":"E","x":-7.3,"d":0},{"p":4,"r":"Ori","g":"E","x":-3,"d":0.5},{"p":4,"r":"Ori","g":"E","x":-2,"d":2},{"p":4,"r":"Ori","g":"E","x":-1,"d":5},{"p":4,"r":"Ori","g":"E","x":0,"d":10},{"p":4,"r":"Ori","g":"E","x":0.8,"d":14},{"p":4,"r":"Ori","g":"E","x":1.3,"d":15},{"p":4,"r":"Ori","g":"E","x":2.2,"d":13},{"p":4,"r":"Ori","g":"E","x":3.3,"d":8},{"p":4,"r":"Ori","g":"E","x":4.4,"d":3},{"p":4,"r":"Ori","g":"E","x":5.3,"d":1},{"p":4,"r":"Ori","g":"E","x":6.5,"d":0},
{"p":4,"r":"Neo","g":"E","x":-5.4,"d":0},{"p":4,"r":"Neo","g":"E","x":-2.4,"d":1},{"p":4,"r":"Neo","g":"E","x":-1.4,"d":3},{"p":4,"r":"Neo","g":"E","x":-0.6,"d":8},{"p":4,"r":"Neo","g":"E","x":0,"d":13},{"p":4,"r":"Neo","g":"E","x":0.6,"d":18},{"p":4,"r":"Neo","g":"E","x":1,"d":20},{"p":4,"r":"Neo","g":"E","x":1.8,"d":17},{"p":4,"r":"Neo","g":"E","x":2.6,"d":10},{"p":4,"r":"Neo","g":"E","x":3.4,"d":3},{"p":4,"r":"Neo","g":"E","x":5,"d":1},{"p":4,"r":"Neo","g":"E","x":7,"d":0.5},{"p":4,"r":"Neo","g":"E","x":9.9,"d":0},
{"p":4,"r":"Nea","g":"E","x":-4.5,"d":0},{"p":4,"r":"Nea","g":"E","x":-2.7,"d":1},{"p":4,"r":"Nea","g":"E","x":-1.6,"d":3},{"p":4,"r":"Nea","g":"E","x":-0.8,"d":7},{"p":4,"r":"Nea","g":"E","x":0,"d":14},{"p":4,"r":"Nea","g":"E","x":0.67,"d":19},{"p":4,"r":"Nea","g":"E","x":1.4,"d":17},{"p":4,"r":"Nea","g":"E","x":2.4,"d":10},{"p":4,"r":"Nea","g":"E","x":3.4,"d":4},{"p":4,"r":"Nea","g":"E","x":4.5,"d":1},{"p":4,"r":"Nea","g":"E","x":6,"d":0},
{"p":4,"r":"Aus","g":"E","x":-7.3,"d":0},{"p":4,"r":"Aus","g":"E","x":-4,"d":0.5},{"p":4,"r":"Aus","g":"E","x":-2.7,"d":1},{"p":4,"r":"Aus","g":"E","x":-1.6,"d":3},{"p":4,"r":"Aus","g":"E","x":-0.6,"d":8},{"p":4,"r":"Aus","g":"E","x":0.3,"d":15},{"p":4,"r":"Aus","g":"E","x":1,"d":18},{"p":4,"r":"Aus","g":"E","x":2,"d":15},{"p":4,"r":"Aus","g":"E","x":3.2,"d":9},{"p":4,"r":"Aus","g":"E","x":4.5,"d":3},{"p":4,"r":"Aus","g":"E","x":5.6,"d":1},{"p":4,"r":"Aus","g":"E","x":7,"d":0},
{"p":4,"r":"Afr","g":"E","x":-2.7,"d":0},{"p":4,"r":"Afr","g":"E","x":-1.6,"d":2},{"p":4,"r":"Afr","g":"E","x":-0.7,"d":5},{"p":4,"r":"Afr","g":"E","x":0,"d":10},{"p":4,"r":"Afr","g":"E","x":0.8,"d":18},{"p":4,"r":"Afr","g":"E","x":1.6,"d":23},{"p":4,"r":"Afr","g":"E","x":2.4,"d":19},{"p":4,"r":"Afr","g":"E","x":3.4,"d":9},{"p":4,"r":"Afr","g":"E","x":4.4,"d":3},{"p":4,"r":"Afr","g":"E","x":5.3,"d":1},{"p":4,"r":"Afr","g":"E","x":6,"d":0},
{"p":5,"r":"Pal","g":"E","x":-2.8,"d":0},{"p":5,"r":"Pal","g":"E","x":-2,"d":2},{"p":5,"r":"Pal","g":"E","x":-1.2,"d":6},{"p":5,"r":"Pal","g":"E","x":-0.5,"d":15},{"p":5,"r":"Pal","g":"E","x":0.3,"d":24},{"p":5,"r":"Pal","g":"E","x":0.9,"d":18},{"p":5,"r":"Pal","g":"E","x":1.5,"d":9},{"p":5,"r":"Pal","g":"E","x":2.2,"d":3},{"p":5,"r":"Pal","g":"E","x":3,"d":1},{"p":5,"r":"Pal","g":"E","x":4,"d":0},
{"p":5,"r":"Ori","g":"E","x":-3.7,"d":0},{"p":5,"r":"Ori","g":"E","x":-2.5,"d":2},{"p":5,"r":"Ori","g":"E","x":-1.5,"d":7},{"p":5,"r":"Ori","g":"E","x":-0.8,"d":15},{"p":5,"r":"Ori","g":"E","x":-0.1,"d":23},{"p":5,"r":"Ori","g":"E","x":0.6,"d":17},{"p":5,"r":"Ori","g":"E","x":1.3,"d":9},{"p":5,"r":"Ori","g":"E","x":2.2,"d":3},{"p":5,"r":"Ori","g":"E","x":3.2,"d":1},{"p":5,"r":"Ori","g":"E","x":5,"d":0.5},{"p":5,"r":"Ori","g":"E","x":6,"d":1},{"p":5,"r":"Ori","g":"E","x":6.7,"d":2},{"p":5,"r":"Ori","g":"E","x":7.4,"d":0.5},{"p":5,"r":"Ori","g":"E","x":8.5,"d":0},
{"p":5,"r":"Neo","g":"E","x":-3.9,"d":0},{"p":5,"r":"Neo","g":"E","x":-2.5,"d":0.5},{"p":5,"r":"Neo","g":"E","x":-1.8,"d":2},{"p":5,"r":"Neo","g":"E","x":-1.1,"d":9},{"p":5,"r":"Neo","g":"E","x":-0.5,"d":20},{"p":5,"r":"Neo","g":"E","x":-0.05,"d":27},{"p":5,"r":"Neo","g":"E","x":0.4,"d":22},{"p":5,"r":"Neo","g":"E","x":1,"d":11},{"p":5,"r":"Neo","g":"E","x":1.6,"d":3},{"p":5,"r":"Neo","g":"E","x":2.2,"d":1},{"p":5,"r":"Neo","g":"E","x":3,"d":0},
{"p":5,"r":"Nea","g":"E","x":-3.2,"d":0},{"p":5,"r":"Nea","g":"E","x":-1.8,"d":2},{"p":5,"r":"Nea","g":"E","x":-1.1,"d":7},{"p":5,"r":"Nea","g":"E","x":-0.6,"d":20},{"p":5,"r":"Nea","g":"E","x":-0.2,"d":30},{"p":5,"r":"Nea","g":"E","x":0.4,"d":25},{"p":5,"r":"Nea","g":"E","x":1,"d":15},{"p":5,"r":"Nea","g":"E","x":1.8,"d":7},{"p":5,"r":"Nea","g":"E","x":2.6,"d":3},{"p":5,"r":"Nea","g":"E","x":3.6,"d":1},{"p":5,"r":"Nea","g":"E","x":4.5,"d":0},
{"p":5,"r":"Aus","g":"E","x":-4.5,"d":0},{"p":5,"r":"Aus","g":"E","x":-3.3,"d":1},{"p":5,"r":"Aus","g":"E","x":-2.8,"d":5},{"p":5,"r":"Aus","g":"E","x":-2.3,"d":1},{"p":5,"r":"Aus","g":"E","x":-1.35,"d":2},{"p":5,"r":"Aus","g":"E","x":-0.8,"d":10},{"p":5,"r":"Aus","g":"E","x":-0.3,"d":30},{"p":5,"r":"Aus","g":"E","x":0,"d":42},{"p":5,"r":"Aus","g":"E","x":0.4,"d":31},{"p":5,"r":"Aus","g":"E","x":0.9,"d":12},{"p":5,"r":"Aus","g":"E","x":1.65,"d":2},{"p":5,"r":"Aus","g":"E","x":2.5,"d":0},
{"p":5,"r":"Afr","g":"E","x":-2.2,"d":0},{"p":5,"r":"Afr","g":"E","x":-1.5,"d":3},{"p":5,"r":"Afr","g":"E","x":-0.8,"d":10},{"p":5,"r":"Afr","g":"E","x":-0.2,"d":24},{"p":5,"r":"Afr","g":"E","x":0.4,"d":45},{"p":5,"r":"Afr","g":"E","x":0.7,"d":32},{"p":5,"r":"Afr","g":"E","x":1.1,"d":15},{"p":5,"r":"Afr","g":"E","x":1.7,"d":4},{"p":5,"r":"Afr","g":"E","x":2.4,"d":1},{"p":5,"r":"Afr","g":"E","x":3,"d":0}
],
"box":[
{"p":1,"r":"Pal","g":"E","lo":-1.4,"q1":0.16,"md":0.7,"q3":1.35,"hi":3.0},{"p":1,"r":"Pal","g":"S","lo":-1.7,"q1":0.16,"md":0.8,"q3":1.56,"hi":3.2},{"p":1,"r":"Pal","g":"N","lo":-3.0,"q1":-0.5,"md":0.16,"q3":1.04,"hi":3.5},
{"p":1,"r":"Ori","g":"E","lo":-1.56,"q1":-0.1,"md":0.5,"q3":1.2,"hi":2.7},{"p":1,"r":"Ori","g":"S","lo":-2.2,"q1":0.1,"md":0.8,"q3":1.56,"hi":3.6},{"p":1,"r":"Ori","g":"N","lo":-3.6,"q1":-1.15,"md":0.26,"q3":0.94,"hi":3.5},
{"p":1,"r":"Neo","g":"E","lo":-1.9,"q1":-0.36,"md":0.4,"q3":1.2,"hi":2.7},{"p":1,"r":"Neo","g":"S","lo":-3.0,"q1":-0.6,"md":0,"q3":0.94,"hi":3.1},{"p":1,"r":"Neo","g":"N","lo":-3.9,"q1":-1.15,"md":0.16,"q3":0.8,"hi":3.5},
{"p":1,"r":"Nea","g":"E","lo":-1.0,"q1":0.1,"md":0.6,"q3":1.15,"hi":2.3},{"p":1,"r":"Nea","g":"S","lo":-2.1,"q1":0,"md":0.5,"q3":1.4,"hi":3.0},{"p":1,"r":"Nea","g":"N","lo":-1.3,"q1":0.1,"md":0.5,"q3":1.04,"hi":2.6},
{"p":1,"r":"Aus","g":"E","lo":-0.7,"q1":0.7,"md":1.3,"q3":1.8,"hi":2.7},{"p":1,"r":"Aus","g":"S","lo":-1.56,"q1":0.26,"md":1.04,"q3":2.1,"hi":4.6},{"p":1,"r":"Aus","g":"N","lo":-1.8,"q1":0.1,"md":0.94,"q3":1.67,"hi":3.75},
{"p":1,"r":"Afr","g":"E","lo":-1.56,"q1":-0.5,"md":0.1,"q3":0.8,"hi":1.8},{"p":1,"r":"Afr","g":"S","lo":-2.2,"q1":-0.5,"md":0.26,"q3":1.04,"hi":2.7},{"p":1,"r":"Afr","g":"N","lo":-2.3,"q1":-0.6,"md":-0.16,"q3":0.5,"hi":2.2},
{"p":2,"r":"Pal","g":"E","lo":-3.5,"q1":-1.4,"md":-0.7,"q3":0.35,"hi":2.65},{"p":2,"r":"Pal","g":"S","lo":-3.9,"q1":-1.6,"md":-0.9,"q3":0.15,"hi":2.9},{"p":2,"r":"Pal","g":"N","lo":-3.3,"q1":-1.0,"md":-0.23,"q3":0.9,"hi":3.7},
{"p":2,"r":"Ori","g":"E","lo":-2.8,"q1":-1.7,"md":-0.8,"q3":0.08,"hi":1.6},{"p":2,"r":"Ori","g":"S","lo":-3.8,"q1":-1.4,"md":-0.6,"q3":0.46,"hi":2.85},{"p":2,"r":"Ori","g":"N","lo":-3.2,"q1":-0.9,"md":-0.3,"q3":0.8,"hi":3.2},
{"p":2,"r":"Neo","g":"E","lo":-2.2,"q1":-0.7,"md":0,"q3":0.73,"hi":2.5},{"p":2,"r":"Neo","g":"S","lo":-3.3,"q1":-1.2,"md":-0.5,"q3":0.46,"hi":3.0},{"p":2,"r":"Neo","g":"N","lo":-3.1,"q1":-0.9,"md":-0.23,"q3":0.73,"hi":3.1},
{"p":2,"r":"Nea","g":"E","lo":-2.3,"q1":-0.9,"md":-0.3,"q3":0.23,"hi":1.8},{"p":2,"r":"Nea","g":"S","lo":-2.5,"q1":-1.0,"md":-0.4,"q3":0.08,"hi":1.3},{"p":2,"r":"Nea","g":"N","lo":-2.6,"q1":-0.7,"md":0,"q3":0.9,"hi":3.0},
{"p":2,"r":"Aus","g":"E","lo":-2.0,"q1":-0.9,"md":-0.23,"q3":0.35,"hi":1.9},{"p":2,"r":"Aus","g":"S","lo":-1.85,"q1":-0.9,"md":-0.23,"q3":0.46,"hi":2.3},{"p":2,"r":"Aus","g":"N","lo":-3.5,"q1":-0.6,"md":0.23,"q3":1.8,"hi":5.0},
{"p":2,"r":"Afr","g":"E","lo":-2.6,"q1":-0.6,"md":0.23,"q3":0.9,"hi":2.5},{"p":2,"r":"Afr","g":"S","lo":-2.6,"q1":-0.4,"md":0.35,"q3":1.1,"hi":3.2},{"p":2,"r":"Afr","g":"N","lo":-3.3,"q1":-0.8,"md":0,"q3":0.9,"hi":3.4},
{"p":3,"r":"Pal","g":"E","lo":-4,"q1":-1.6,"md":-0.6,"q3":0.15,"hi":1.4},{"p":3,"r":"Pal","g":"S","lo":-4.2,"q1":-1.86,"md":-0.85,"q3":-0.25,"hi":1.76},{"p":3,"r":"Pal","g":"N","lo":-2.7,"q1":-0.95,"md":-0.45,"q3":0.15,"hi":1.56},
{"p":3,"r":"Ori","g":"E","lo":-3.5,"q1":-1.86,"md":-0.6,"q3":0.15,"hi":1.4},{"p":3,"r":"Ori","g":"S","lo":-2.9,"q1":-0.85,"md":-0.1,"q3":0.65,"hi":2.16},{"p":3,"r":"Ori","g":"N","lo":-2.9,"q1":-0.85,"md":-0.25,"q3":0.4,"hi":2.26},
{"p":3,"r":"Neo","g":"E","lo":-1.36,"q1":-0.1,"md":0.4,"q3":1.06,"hi":1.66},{"p":3,"r":"Neo","g":"S","lo":-1.46,"q1":-0.1,"md":0.4,"q3":0.9,"hi":2.16},{"p":3,"r":"Neo","g":"N","lo":-2.1,"q1":-0.45,"md":0.15,"q3":0.65,"hi":2.56},
{"p":3,"r":"Nea","g":"E","lo":-1.86,"q1":-1.1,"md":-0.35,"q3":0.25,"hi":1.66},{"p":3,"r":"Nea","g":"S","lo":-3.1,"q1":-0.95,"md":-0.2,"q3":0.75,"hi":1.66},{"p":3,"r":"Nea","g":"N","lo":-1.6,"q1":-0.45,"md":0,"q3":0.4,"hi":1.76},
{"p":3,"r":"Aus","g":"E","lo":-2.1,"q1":-0.7,"md":-0.25,"q3":0.65,"hi":1.9},{"p":3,"r":"Aus","g":"S","lo":-2.6,"q1":-0.75,"md":-0.1,"q3":0.65,"hi":1.9},{"p":3,"r":"Aus","g":"N","lo":-2.9,"q1":-0.95,"md":-0.2,"q3":0.65,"hi":1.76},
{"p":3,"r":"Afr","g":"E","lo":-1.36,"q1":0.05,"md":0.75,"q3":1.26,"hi":1.9},{"p":3,"r":"Afr","g":"S","lo":-1.36,"q1":0.05,"md":0.4,"q3":0.9,"hi":1.4},{"p":3,"r":"Afr","g":"N","lo":-1.86,"q1":-0.35,"md":0.25,"q3":0.9,"hi":2.16},
{"p":4,"r":"Pal","g":"E","lo":-1.8,"q1":-0.25,"md":0.37,"q3":1.6,"hi":3.1},{"p":4,"r":"Pal","g":"S","lo":-1.5,"q1":0.06,"md":0.67,"q3":1.3,"hi":2.5},{"p":4,"r":"Pal","g":"N","lo":-2.1,"q1":-0.67,"md":-0.25,"q3":0.25,"hi":1.9},
{"p":4,"r":"Ori","g":"E","lo":-1.5,"q1":0.18,"md":1.17,"q3":2.4,"hi":3.9},{"p":4,"r":"Ori","g":"S","lo":-1.5,"q1":-0.25,"md":0.37,"q3":1.0,"hi":1.9},{"p":4,"r":"Ori","g":"N","lo":-2.1,"q1":-0.67,"md":-0.37,"q3":0.18,"hi":1.0},
{"p":4,"r":"Neo","g":"E","lo":-0.86,"q1":-0.06,"md":0.67,"q3":1.3,"hi":2.8},{"p":4,"r":"Neo","g":"S","lo":-2.4,"q1":-0.43,"md":0.18,"q3":0.67,"hi":2.8},{"p":4,"r":"Neo","g":"N","lo":-2.1,"q1":-0.86,"md":-0.37,"q3":0.06,"hi":1.6},
{"p":4,"r":"Nea","g":"E","lo":-1.5,"q1":-0.43,"md":0.37,"q3":1.4,"hi":3.9},{"p":4,"r":"Nea","g":"S","lo":-1.5,"q1":-0.43,"md":0.06,"q3":0.8,"hi":2.8},{"p":4,"r":"Nea","g":"N","lo":-2.3,"q1":-0.86,"md":-0.37,"q3":0.18,"hi":1.8},
{"p":4,"r":"Aus","g":"E","lo":-1.5,"q1":-0.06,"md":0.8,"q3":1.8,"hi":4.0},{"p":4,"r":"Aus","g":"S","lo":-1.5,"q1":0.06,"md":0.67,"q3":1.3,"hi":3.1},{"p":4,"r":"Aus","g":"N","lo":-1.5,"q1":-0.67,"md":-0.25,"q3":0.25,"hi":1.8},
{"p":4,"r":"Afr","g":"E","lo":-1.0,"q1":0.67,"md":1.3,"q3":2.0,"hi":3.1},{"p":4,"r":"Afr","g":"S","lo":-2.1,"q1":-0.43,"md":0.06,"q3":0.8,"hi":2.4},{"p":4,"r":"Afr","g":"N","lo":-2.1,"q1":-0.55,"md":-0.06,"q3":0.55,"hi":1.9},
{"p":5,"r":"Pal","g":"E","lo":-1.8,"q1":-0.35,"md":0.23,"q3":0.9,"hi":2.6},{"p":5,"r":"Pal","g":"S","lo":-2.1,"q1":-0.46,"md":0.04,"q3":0.7,"hi":2.4},{"p":5,"r":"Pal","g":"N","lo":-2.0,"q1":-0.65,"md":-0.27,"q3":0.3,"hi":1.65},
{"p":5,"r":"Ori","g":"E","lo":-2.6,"q1":-0.65,"md":0.04,"q3":0.7,"hi":2.6},{"p":5,"r":"Ori","g":"S","lo":-1.6,"q1":-0.46,"md":-0.08,"q3":0.42,"hi":1.65},{"p":5,"r":"Ori","g":"N","lo":-2.1,"q1":-0.85,"md":-0.46,"q3":0.04,"hi":1.46},
{"p":5,"r":"Neo","g":"E","lo":-1.0,"q1":-0.4,"md":0.12,"q3":0.7,"hi":1.85},{"p":5,"r":"Neo","g":"S","lo":-1.4,"q1":-0.46,"md":0.04,"q3":0.58,"hi":2.0},{"p":5,"r":"Neo","g":"N","lo":-2.3,"q1":-0.73,"md":-0.2,"q3":0.3,"hi":1.85},
{"p":5,"r":"Nea","g":"E","lo":-1.1,"q1":-0.27,"md":0.2,"q3":0.7,"hi":2.0},{"p":5,"r":"Nea","g":"S","lo":-1.6,"q1":-0.54,"md":-0.08,"q3":0.42,"hi":1.85},{"p":5,"r":"Nea","g":"N","lo":-1.8,"q1":-0.4,"md":0,"q3":0.38,"hi":1.35},
{"p":5,"r":"Aus","g":"E","lo":-0.85,"q1":-0.27,"md":0.04,"q3":0.3,"hi":0.96},{"p":5,"r":"Aus","g":"S","lo":-1.1,"q1":-0.27,"md":0.12,"q3":0.58,"hi":1.85},{"p":5,"r":"Aus","g":"N","lo":-1.1,"q1":-0.4,"md":0,"q3":0.3,"hi":1.2},
{"p":5,"r":"Afr","g":"E","lo":-0.85,"q1":-0.08,"md":0.2,"q3":0.5,"hi":1.27},{"p":5,"r":"Afr","g":"S","lo":-1.4,"q1":-0.27,"md":0.2,"q3":0.7,"hi":1.85},{"p":5,"r":"Afr","g":"N","lo":-1.8,"q1":-0.46,"md":-0.08,"q3":0.3,"hi":1.6}
],
"sig":[
{"p":2,"r":"Neo","s":"*","x":6.5},
{"p":3,"r":"Ori","s":"**","x":5.56},
{"p":3,"r":"Nea","s":"*","x":5.3},
{"p":3,"r":"Afr","s":"*","x":5.56},
{"p":4,"r":"Ori","s":"***","x":14.8},
{"p":4,"r":"Neo","s":"***","x":14.8},
{"p":4,"r":"Nea","s":"*","x":14.3},
{"p":4,"r":"Afr","s":"***","x":15.1},
{"p":5,"r":"Nea","s":"**","x":8.65}
]
},
"hconcat":[
{"width":138,"height":446,"layer":[
 {"data":{"name":"dens"},"transform":[{"filter":"datum.p==1"},{"calculate":"indexof(['Afr','Aus','Nea','Neo','Ori','Pal'],datum.r)+0.155","as":"b"},{"calculate":"datum.b+datum.d/75.1","as":"t"}],
  "mark":{"type":"area","interpolate":"monotone","fillOpacity":0.5,"strokeWidth":0},
  "encoding":{"x":{"field":"x","type":"quantitative","title":"PC1","scale":{"domain":[-7.3,14.3],"nice":false,"zero":false},"axis":{"values":[-5,0,5,10]}},
   "y":{"field":"t","type":"quantitative","stack":null,"title":null,"scale":{"domain":[-0.19,5.75],"nice":false,"zero":false},"axis":{"values":[0,1,2,3,4,5],"labelExpr":"['Afrotropical','Australian','Nearctic','Neotropical','Oriental','Palearctic'][datum.value]","minExtent":78,"maxExtent":78}},
   "y2":{"field":"b"},
   "color":{"field":"g","type":"nominal","scale":{"domain":["N","S","E"],"range":["#000000","#0000ff","#8b0000"]},"legend":{"orient":"none","legendX":125,"legendY":-27,"direction":"horizontal","title":null,"labelExpr":"datum.value=='N'?'Non-introduced species':datum.value=='S'?'Non-established species':'Established species'","labelFontSize":12.5,"labelColor":"#222","symbolType":"square","symbolSize":190,"symbolOpacity":0.5,"symbolStrokeWidth":0,"columnPadding":36,"gridAlign":"all","labelOffset":6}},
   "detail":{"field":"r"}}},
 {"data":{"name":"box"},"transform":[{"filter":"datum.p==1"},{"calculate":"indexof(['Afr','Aus','Nea','Neo','Ori','Pal'],datum.r)+(datum.g=='E'?0.067:datum.g=='S'?0:-0.067)","as":"yc"},{"calculate":"datum.yc-0.031","as":"y1"},{"calculate":"datum.yc+0.031","as":"y2"}],
  "layer":[
   {"mark":{"type":"rule","color":"#333","strokeWidth":0.8},"encoding":{"x":{"field":"lo","type":"quantitative","title":"PC1"},"x2":{"field":"hi"},"y":{"field":"yc","type":"quantitative","title":null}}},
   {"mark":{"type":"rect","stroke":"#222","strokeWidth":0.6,"fillOpacity":0.5},"encoding":{"x":{"field":"q1","type":"quantitative","title":"PC1"},"x2":{"field":"q3"},"y":{"field":"y1","type":"quantitative","title":null},"y2":{"field":"y2"},"fill":{"field":"g","type":"nominal","scale":{"domain":["N","S","E"],"range":["#000000","#0000ff","#8b0000"]},"legend":null}}},
   {"mark":{"type":"rule","color":"#111","strokeWidth":1.3},"encoding":{"x":{"field":"md","type":"quantitative","title":"PC1"},"y":{"field":"y1","type":"quantitative","title":null},"y2":{"field":"y2"}}}
  ]}
]},
{"width":143,"height":446,"layer":[
 {"data":{"name":"dens"},"transform":[{"filter":"datum.p==2"},{"calculate":"indexof(['Afr','Aus','Nea','Neo','Ori','Pal'],datum.r)+0.155","as":"b"},{"calculate":"datum.b+datum.d/75.1","as":"t"}],
  "mark":{"type":"area","interpolate":"monotone","fillOpacity":0.5,"strokeWidth":0},
  "encoding":{"x":{"field":"x","type":"quantitative","title":"PC2","scale":{"domain":[-7.9,8.7],"nice":false,"zero":false},"axis":{"values":[-4,0,4,8]}},
   "y":{"field":"t","type":"quantitative","stack":null,"title":null,"scale":{"domain":[-0.19,5.75],"nice":false,"zero":false},"axis":{"values":[0,1,2,3,4,5],"labels":false,"minExtent":5,"maxExtent":5}},
   "y2":{"field":"b"},
   "color":{"field":"g","type":"nominal","scale":{"domain":["N","S","E"],"range":["#000000","#0000ff","#8b0000"]},"legend":{"orient":"none","legendX":125,"legendY":-27,"direction":"horizontal","title":null,"labelExpr":"datum.value=='N'?'Non-introduced species':datum.value=='S'?'Non-established species':'Established species'","labelFontSize":12.5,"labelColor":"#222","symbolType":"square","symbolSize":190,"symbolOpacity":0.5,"symbolStrokeWidth":0,"columnPadding":36,"gridAlign":"all","labelOffset":6}},
   "detail":{"field":"r"}}},
 {"data":{"name":"box"},"transform":[{"filter":"datum.p==2"},{"calculate":"indexof(['Afr','Aus','Nea','Neo','Ori','Pal'],datum.r)+(datum.g=='E'?0.067:datum.g=='S'?0:-0.067)","as":"yc"},{"calculate":"datum.yc-0.031","as":"y1"},{"calculate":"datum.yc+0.031","as":"y2"}],
  "layer":[
   {"mark":{"type":"rule","color":"#333","strokeWidth":0.8},"encoding":{"x":{"field":"lo","type":"quantitative","title":"PC2"},"x2":{"field":"hi"},"y":{"field":"yc","type":"quantitative","title":null}}},
   {"mark":{"type":"rect","stroke":"#222","strokeWidth":0.6,"fillOpacity":0.5},"encoding":{"x":{"field":"q1","type":"quantitative","title":"PC2"},"x2":{"field":"q3"},"y":{"field":"y1","type":"quantitative","title":null},"y2":{"field":"y2"},"fill":{"field":"g","type":"nominal","scale":{"domain":["N","S","E"],"range":["#000000","#0000ff","#8b0000"]},"legend":null}}},
   {"mark":{"type":"rule","color":"#111","strokeWidth":1.3},"encoding":{"x":{"field":"md","type":"quantitative","title":"PC2"},"y":{"field":"y1","type":"quantitative","title":null},"y2":{"field":"y2"}}}
  ]},
 {"data":{"name":"sig"},"transform":[{"filter":"datum.p==2"},{"calculate":"indexof(['Afr','Aus','Nea','Neo','Ori','Pal'],datum.r)+0.155","as":"b"}],
  "mark":{"type":"text","fontSize":13,"dy":7,"baseline":"alphabetic","align":"center","color":"#111"},
  "encoding":{"x":{"field":"x","type":"quantitative","title":"PC2"},"y":{"field":"b","type":"quantitative","title":null},"text":{"field":"s"}}}
]},
{"width":143,"height":446,"layer":[
 {"data":{"name":"dens"},"transform":[{"filter":"datum.p==3"},{"calculate":"indexof(['Afr','Aus','Nea','Neo','Ori','Pal'],datum.r)+0.155","as":"b"},{"calculate":"datum.b+datum.d/75.1","as":"t"}],
  "mark":{"type":"area","interpolate":"monotone","fillOpacity":0.5,"strokeWidth":0},
  "encoding":{"x":{"field":"x","type":"quantitative","title":"PC3","scale":{"domain":[-15.9,5.76],"nice":false,"zero":false},"axis":{"values":[-15,-10,-5,0,5]}},
   "y":{"field":"t","type":"quantitative","stack":null,"title":null,"scale":{"domain":[-0.19,5.75],"nice":false,"zero":false},"axis":{"values":[0,1,2,3,4,5],"labels":false,"minExtent":5,"maxExtent":5}},
   "y2":{"field":"b"},
   "color":{"field":"g","type":"nominal","scale":{"domain":["N","S","E"],"range":["#000000","#0000ff","#8b0000"]},"legend":{"orient":"none","legendX":125,"legendY":-27,"direction":"horizontal","title":null,"labelExpr":"datum.value=='N'?'Non-introduced species':datum.value=='S'?'Non-established species':'Established species'","labelFontSize":12.5,"labelColor":"#222","symbolType":"square","symbolSize":190,"symbolOpacity":0.5,"symbolStrokeWidth":0,"columnPadding":36,"gridAlign":"all","labelOffset":6}},
   "detail":{"field":"r"}}},
 {"data":{"name":"box"},"transform":[{"filter":"datum.p==3"},{"calculate":"indexof(['Afr','Aus','Nea','Neo','Ori','Pal'],datum.r)+(datum.g=='E'?0.067:datum.g=='S'?0:-0.067)","as":"yc"},{"calculate":"datum.yc-0.031","as":"y1"},{"calculate":"datum.yc+0.031","as":"y2"}],
  "layer":[
   {"mark":{"type":"rule","color":"#333","strokeWidth":0.8},"encoding":{"x":{"field":"lo","type":"quantitative","title":"PC3"},"x2":{"field":"hi"},"y":{"field":"yc","type":"quantitative","title":null}}},
   {"mark":{"type":"rect","stroke":"#222","strokeWidth":0.6,"fillOpacity":0.5},"encoding":{"x":{"field":"q1","type":"quantitative","title":"PC3"},"x2":{"field":"q3"},"y":{"field":"y1","type":"quantitative","title":null},"y2":{"field":"y2"},"fill":{"field":"g","type":"nominal","scale":{"domain":["N","S","E"],"range":["#000000","#0000ff","#8b0000"]},"legend":null}}},
   {"mark":{"type":"rule","color":"#111","strokeWidth":1.3},"encoding":{"x":{"field":"md","type":"quantitative","title":"PC3"},"y":{"field":"y1","type":"quantitative","title":null},"y2":{"field":"y2"}}}
  ]},
 {"data":{"name":"sig"},"transform":[{"filter":"datum.p==3"},{"calculate":"indexof(['Afr','Aus','Nea','Neo','Ori','Pal'],datum.r)+0.155","as":"b"}],
  "mark":{"type":"text","fontSize":13,"dy":7,"baseline":"alphabetic","align":"center","color":"#111"},
  "encoding":{"x":{"field":"x","type":"quantitative","title":"PC3"},"y":{"field":"b","type":"quantitative","title":null},"text":{"field":"s"}}}
]},
{"width":142,"height":446,"layer":[
 {"data":{"name":"dens"},"transform":[{"filter":"datum.p==4"},{"calculate":"indexof(['Afr','Aus','Nea','Neo','Ori','Pal'],datum.r)+0.155","as":"b"},{"calculate":"datum.b+datum.d/75.1","as":"t"}],
  "mark":{"type":"area","interpolate":"monotone","fillOpacity":0.5,"strokeWidth":0},
  "encoding":{"x":{"field":"x","type":"quantitative","title":"PC4","scale":{"domain":[-9.0,17.3],"nice":false,"zero":false},"axis":{"values":[0,10]}},
   "y":{"field":"t","type":"quantitative","stack":null,"title":null,"scale":{"domain":[-0.19,5.75],"nice":false,"zero":false},"axis":{"values":[0,1,2,3,4,5],"labels":false,"minExtent":5,"maxExtent":5}},
   "y2":{"field":"b"},
   "color":{"field":"g","type":"nominal","scale":{"domain":["N","S","E"],"range":["#000000","#0000ff","#8b0000"]},"legend":{"orient":"none","legendX":125,"legendY":-27,"direction":"horizontal","title":null,"labelExpr":"datum.value=='N'?'Non-introduced species':datum.value=='S'?'Non-established species':'Established species'","labelFontSize":12.5,"labelColor":"#222","symbolType":"square","symbolSize":190,"symbolOpacity":0.5,"symbolStrokeWidth":0,"columnPadding":36,"gridAlign":"all","labelOffset":6}},
   "detail":{"field":"r"}}},
 {"data":{"name":"box"},"transform":[{"filter":"datum.p==4"},{"calculate":"indexof(['Afr','Aus','Nea','Neo','Ori','Pal'],datum.r)+(datum.g=='E'?0.067:datum.g=='S'?0:-0.067)","as":"yc"},{"calculate":"datum.yc-0.031","as":"y1"},{"calculate":"datum.yc+0.031","as":"y2"}],
  "layer":[
   {"mark":{"type":"rule","color":"#333","strokeWidth":0.8},"encoding":{"x":{"field":"lo","type":"quantitative","title":"PC4"},"x2":{"field":"hi"},"y":{"field":"yc","type":"quantitative","title":null}}},
   {"mark":{"type":"rect","stroke":"#222","strokeWidth":0.6,"fillOpacity":0.5},"encoding":{"x":{"field":"q1","type":"quantitative","title":"PC4"},"x2":{"field":"q3"},"y":{"field":"y1","type":"quantitative","title":null},"y2":{"field":"y2"},"fill":{"field":"g","type":"nominal","scale":{"domain":["N","S","E"],"range":["#000000","#0000ff","#8b0000"]},"legend":null}}},
   {"mark":{"type":"rule","color":"#111","strokeWidth":1.3},"encoding":{"x":{"field":"md","type":"quantitative","title":"PC4"},"y":{"field":"y1","type":"quantitative","title":null},"y2":{"field":"y2"}}}
  ]},
 {"data":{"name":"sig"},"transform":[{"filter":"datum.p==4"},{"calculate":"indexof(['Afr','Aus','Nea','Neo','Ori','Pal'],datum.r)+0.155","as":"b"}],
  "mark":{"type":"text","fontSize":13,"dy":7,"baseline":"alphabetic","align":"center","color":"#111"},
  "encoding":{"x":{"field":"x","type":"quantitative","title":"PC4"},"y":{"field":"b","type":"quantitative","title":null},"text":{"field":"s"}}}
]},
{"width":142,"height":446,"layer":[
 {"data":{"name":"dens"},"transform":[{"filter":"datum.p==5"},{"calculate":"indexof(['Afr','Aus','Nea','Neo','Ori','Pal'],datum.r)+0.155","as":"b"},{"calculate":"datum.b+datum.d/75.1","as":"t"}],
  "mark":{"type":"area","interpolate":"monotone","fillOpacity":0.5,"strokeWidth":0},
  "encoding":{"x":{"field":"x","type":"quantitative","title":"PC5","scale":{"domain":[-5.07,11.3],"nice":false,"zero":false},"axis":{"values":[-5,0,5,10]}},
   "y":{"field":"t","type":"quantitative","stack":null,"title":null,"scale":{"domain":[-0.19,5.75],"nice":false,"zero":false},"axis":{"values":[0,1,2,3,4,5],"labels":false,"minExtent":5,"maxExtent":5}},
   "y2":{"field":"b"},
   "color":{"field":"g","type":"nominal","scale":{"domain":["N","S","E"],"range":["#000000","#0000ff","#8b0000"]},"legend":{"orient":"none","legendX":125,"legendY":-27,"direction":"horizontal","title":null,"labelExpr":"datum.value=='N'?'Non-introduced species':datum.value=='S'?'Non-established species':'Established species'","labelFontSize":12.5,"labelColor":"#222","symbolType":"square","symbolSize":190,"symbolOpacity":0.5,"symbolStrokeWidth":0,"columnPadding":36,"gridAlign":"all","labelOffset":6}},
   "detail":{"field":"r"}}},
 {"data":{"name":"box"},"transform":[{"filter":"datum.p==5"},{"calculate":"indexof(['Afr','Aus','Nea','Neo','Ori','Pal'],datum.r)+(datum.g=='E'?0.067:datum.g=='S'?0:-0.067)","as":"yc"},{"calculate":"datum.yc-0.031","as":"y1"},{"calculate":"datum.yc+0.031","as":"y2"}],
  "layer":[
   {"mark":{"type":"rule","color":"#333","strokeWidth":0.8},"encoding":{"x":{"field":"lo","type":"quantitative","title":"PC5"},"x2":{"field":"hi"},"y":{"field":"yc","type":"quantitative","title":null}}},
   {"mark":{"type":"rect","stroke":"#222","strokeWidth":0.6,"fillOpacity":0.5},"encoding":{"x":{"field":"q1","type":"quantitative","title":"PC5"},"x2":{"field":"q3"},"y":{"field":"y1","type":"quantitative","title":null},"y2":{"field":"y2"},"fill":{"field":"g","type":"nominal","scale":{"domain":["N","S","E"],"range":["#000000","#0000ff","#8b0000"]},"legend":null}}},
   {"mark":{"type":"rule","color":"#111","strokeWidth":1.3},"encoding":{"x":{"field":"md","type":"quantitative","title":"PC5"},"y":{"field":"y1","type":"quantitative","title":null},"y2":{"field":"y2"}}}
  ]},
 {"data":{"name":"sig"},"transform":[{"filter":"datum.p==5"},{"calculate":"indexof(['Afr','Aus','Nea','Neo','Ori','Pal'],datum.r)+0.155","as":"b"}],
  "mark":{"type":"text","fontSize":13,"dy":7,"baseline":"alphabetic","align":"center","color":"#111"},
  "encoding":{"x":{"field":"x","type":"quantitative","title":"PC5"},"y":{"field":"b","type":"quantitative","title":null},"text":{"field":"s"}}}
]}
],
"config":{
 "view":{"stroke":null},
 "concat":{"spacing":18},
 "font":"Liberation Sans",
 "axis":{"grid":false,"domainColor":"#333","tickColor":"#333","labelColor":"#333","titleColor":"#222","titleFontWeight":"normal","labelFont":"Liberation Sans","titleFont":"Liberation Sans"},
 "axisX":{"tickSize":3,"labelFontSize":9,"titleFontSize":11,"titlePadding":3,"labelPadding":2},
 "axisY":{"tickSize":3,"labelFontSize":10.5,"labelPadding":3},
 "legend":{"labelFont":"Liberation Sans"}
}
}
